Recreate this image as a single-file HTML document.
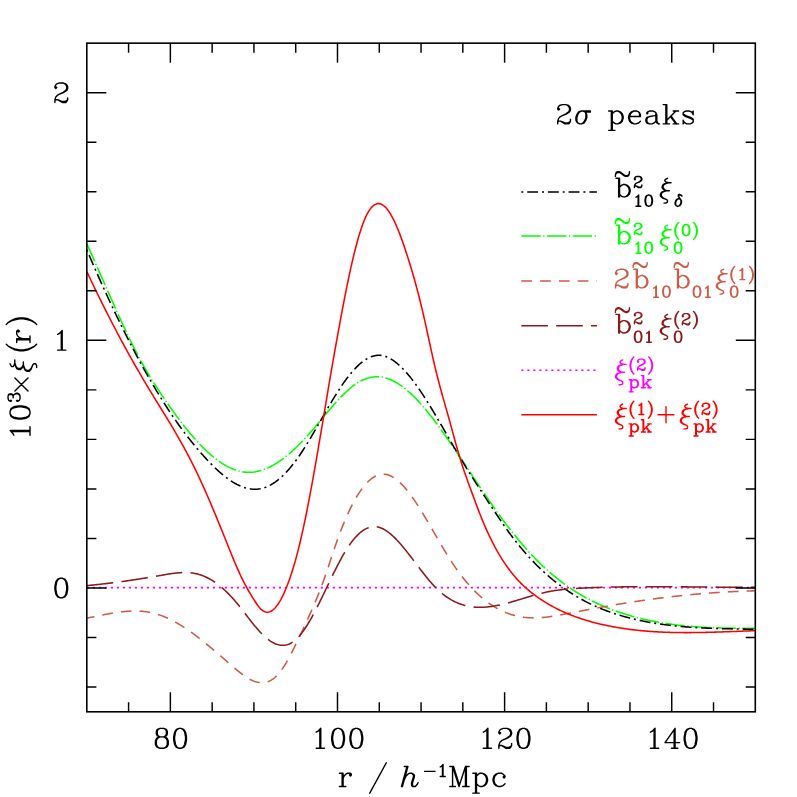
<!DOCTYPE html>
<html><head><meta charset="utf-8"><title>plot</title>
<style>html,body{margin:0;padding:0;background:#fff;font-family:"Liberation Sans",sans-serif}svg{display:block}</style>
</head><body><svg width="797" height="797" viewBox="0 0 797 797">
<rect width="797" height="797" fill="#fff"/>
<clipPath id="c"><rect x="86.80" y="43.15" width="668.50" height="668.65"/></clipPath>
<g clip-path="url(#c)"><path d="M86.80 243.78L87.80 245.98L88.80 248.18L89.80 250.40L90.80 252.62L91.80 254.85L92.80 257.08L93.80 259.33L94.80 261.58L95.80 263.83L96.80 266.09L97.80 268.36L98.80 270.62L99.80 272.89L100.80 275.16L101.80 277.44L102.80 279.71L103.80 281.99L104.80 284.26L105.80 286.54L106.80 288.81L107.80 291.08L108.80 293.35L109.80 295.61L110.80 297.87L111.80 300.13L112.80 302.38L113.80 304.62L114.80 306.86L115.80 309.09L116.80 311.32L117.80 313.53L118.80 315.74L119.80 317.94L120.80 320.12L121.80 322.30L122.80 324.46L123.80 326.61L124.80 328.75L125.80 330.88L126.80 332.99L127.80 335.09L128.80 337.17L129.80 339.24L130.80 341.29L131.80 343.32L132.80 345.34L133.80 347.34L134.80 349.32L135.80 351.28L136.80 353.21L137.80 355.13L138.80 357.03L139.80 358.90L140.80 360.76L141.80 362.59L142.80 364.39L143.80 366.17L144.80 367.93L145.80 369.67L146.80 371.39L147.80 373.08L148.80 374.76L149.80 376.42L150.80 378.05L151.80 379.68L152.80 381.28L153.80 382.87L154.80 384.44L155.80 386.00L156.80 387.55L157.80 389.08L158.80 390.60L159.80 392.11L160.80 393.61L161.80 395.10L162.80 396.58L163.80 398.05L164.80 399.52L165.80 400.97L166.80 402.42L167.80 403.86L168.80 405.29L169.80 406.71L170.80 408.13L171.80 409.53L172.80 410.93L173.80 412.31L174.80 413.69L175.80 415.06L176.80 416.41L177.80 417.76L178.80 419.09L179.80 420.42L180.80 421.73L181.80 423.03L182.80 424.32L183.80 425.60L184.80 426.86L185.80 428.12L186.80 429.36L187.80 430.59L188.80 431.80L189.80 433.00L190.80 434.19L191.80 435.37L192.80 436.53L193.80 437.68L194.80 438.81L195.80 439.93L196.80 441.03L197.80 442.12L198.80 443.19L199.80 444.25L200.80 445.29L201.80 446.32L202.80 447.33L203.80 448.32L204.80 449.30L205.80 450.26L206.80 451.20L207.80 452.13L208.80 453.04L209.80 453.93L210.80 454.80L211.80 455.65L212.80 456.49L213.80 457.30L214.80 458.10L215.80 458.88L216.80 459.64L217.80 460.38L218.80 461.10L219.80 461.80L220.80 462.48L221.80 463.14L222.80 463.78L223.80 464.40L224.80 464.99L225.80 465.57L226.80 466.12L227.80 466.65L228.80 467.16L229.80 467.65L230.80 468.11L231.80 468.55L232.80 468.97L233.80 469.37L234.80 469.74L235.80 470.09L236.80 470.41L237.80 470.71L238.80 470.99L239.80 471.24L240.80 471.46L241.80 471.66L242.80 471.84L243.80 471.99L244.80 472.11L245.80 472.21L246.80 472.28L247.80 472.33L248.80 472.35L249.80 472.34L250.80 472.31L251.80 472.25L252.80 472.16L253.80 472.05L254.80 471.91L255.80 471.75L256.80 471.57L257.80 471.35L258.80 471.12L259.80 470.86L260.80 470.58L261.80 470.27L262.80 469.94L263.80 469.59L264.80 469.21L265.80 468.82L266.80 468.40L267.80 467.95L268.80 467.49L269.80 467.01L270.80 466.50L271.80 465.97L272.80 465.43L273.80 464.86L274.80 464.27L275.80 463.66L276.80 463.04L277.80 462.39L278.80 461.72L279.80 461.04L280.80 460.34L281.80 459.62L282.80 458.88L283.80 458.12L284.80 457.35L285.80 456.55L286.80 455.74L287.80 454.92L288.80 454.08L289.80 453.22L290.80 452.35L291.80 451.46L292.80 450.55L293.80 449.63L294.80 448.69L295.80 447.75L296.80 446.78L297.80 445.80L298.80 444.81L299.80 443.80L300.80 442.79L301.80 441.75L302.80 440.71L303.80 439.65L304.80 438.58L305.80 437.50L306.80 436.40L307.80 435.30L308.80 434.18L309.80 433.05L310.80 431.92L311.80 430.77L312.80 429.61L313.80 428.44L314.80 427.27L315.80 426.09L316.80 424.90L317.80 423.72L318.80 422.52L319.80 421.33L320.80 420.13L321.80 418.93L322.80 417.73L323.80 416.53L324.80 415.33L325.80 414.14L326.80 412.95L327.80 411.76L328.80 410.58L329.80 409.41L330.80 408.24L331.80 407.08L332.80 405.93L333.80 404.79L334.80 403.66L335.80 402.55L336.80 401.44L337.80 400.35L338.80 399.27L339.80 398.21L340.80 397.17L341.80 396.14L342.80 395.13L343.80 394.14L344.80 393.17L345.80 392.22L346.80 391.29L347.80 390.38L348.80 389.50L349.80 388.64L350.80 387.81L351.80 387.00L352.80 386.22L353.80 385.47L354.80 384.75L355.80 384.06L356.80 383.39L357.80 382.76L358.80 382.16L359.80 381.59L360.80 381.05L361.80 380.54L362.80 380.07L363.80 379.62L364.80 379.21L365.80 378.83L366.80 378.48L367.80 378.16L368.80 377.87L369.80 377.62L370.80 377.39L371.80 377.21L372.80 377.05L373.80 376.92L374.80 376.83L375.80 376.77L376.80 376.75L377.80 376.76L378.80 376.80L379.80 376.87L380.80 376.98L381.80 377.12L382.80 377.30L383.80 377.50L384.80 377.74L385.80 378.00L386.80 378.30L387.80 378.63L388.80 378.99L389.80 379.38L390.80 379.79L391.80 380.24L392.80 380.71L393.80 381.22L394.80 381.75L395.80 382.30L396.80 382.89L397.80 383.50L398.80 384.13L399.80 384.80L400.80 385.48L401.80 386.19L402.80 386.93L403.80 387.69L404.80 388.48L405.80 389.28L406.80 390.11L407.80 390.97L408.80 391.84L409.80 392.74L410.80 393.66L411.80 394.60L412.80 395.56L413.80 396.54L414.80 397.54L415.80 398.56L416.80 399.60L417.80 400.65L418.80 401.73L419.80 402.82L420.80 403.93L421.80 405.06L422.80 406.21L423.80 407.37L424.80 408.54L425.80 409.74L426.80 410.94L427.80 412.17L428.80 413.40L429.80 414.66L430.80 415.92L431.80 417.20L432.80 418.49L433.80 419.79L434.80 421.11L435.80 422.43L436.80 423.77L437.80 425.12L438.80 426.48L439.80 427.85L440.80 429.23L441.80 430.62L442.80 432.02L443.80 433.42L444.80 434.84L445.80 436.26L446.80 437.69L447.80 439.13L448.80 440.57L449.80 442.02L450.80 443.47L451.80 444.93L452.80 446.40L453.80 447.87L454.80 449.35L455.80 450.83L456.80 452.31L457.80 453.80L458.80 455.29L459.80 456.78L460.80 458.28L461.80 459.78L462.80 461.28L463.80 462.79L464.80 464.29L465.80 465.80L466.80 467.31L467.80 468.82L468.80 470.32L469.80 471.83L470.80 473.34L471.80 474.85L472.80 476.36L473.80 477.87L474.80 479.37L475.80 480.88L476.80 482.38L477.80 483.88L478.80 485.38L479.80 486.88L480.80 488.37L481.80 489.86L482.80 491.34L483.80 492.82L484.80 494.30L485.80 495.77L486.80 497.24L487.80 498.71L488.80 500.16L489.80 501.62L490.80 503.06L491.80 504.50L492.80 505.94L493.80 507.36L494.80 508.78L495.80 510.19L496.80 511.60L497.80 513.00L498.80 514.38L499.80 515.76L500.80 517.13L501.80 518.50L502.80 519.85L503.80 521.19L504.80 522.53L505.80 523.85L506.80 525.17L507.80 526.48L508.80 527.77L509.80 529.06L510.80 530.34L511.80 531.61L512.80 532.87L513.80 534.12L514.80 535.36L515.80 536.59L516.80 537.81L517.80 539.02L518.80 540.22L519.80 541.41L520.80 542.59L521.80 543.77L522.80 544.93L523.80 546.08L524.80 547.22L525.80 548.35L526.80 549.47L527.80 550.58L528.80 551.68L529.80 552.77L530.80 553.85L531.80 554.92L532.80 555.98L533.80 557.02L534.80 558.06L535.80 559.09L536.80 560.10L537.80 561.11L538.80 562.10L539.80 563.09L540.80 564.06L541.80 565.02L542.80 565.97L543.80 566.91L544.80 567.84L545.80 568.76L546.80 569.66L547.80 570.56L548.80 571.45L549.80 572.32L550.80 573.19L551.80 574.05L552.80 574.89L553.80 575.73L554.80 576.56L555.80 577.37L556.80 578.18L557.80 578.97L558.80 579.76L559.80 580.54L560.80 581.31L561.80 582.06L562.80 582.81L563.80 583.55L564.80 584.28L565.80 585.01L566.80 585.72L567.80 586.42L568.80 587.12L569.80 587.80L570.80 588.48L571.80 589.15L572.80 589.81L573.80 590.46L574.80 591.10L575.80 591.73L576.80 592.36L577.80 592.98L578.80 593.59L579.80 594.19L580.80 594.78L581.80 595.37L582.80 595.94L583.80 596.51L584.80 597.08L585.80 597.63L586.80 598.18L587.80 598.72L588.80 599.25L589.80 599.77L590.80 600.29L591.80 600.80L592.80 601.30L593.80 601.80L594.80 602.29L595.80 602.77L596.80 603.24L597.80 603.71L598.80 604.17L599.80 604.63L600.80 605.08L601.80 605.52L602.80 605.95L603.80 606.38L604.80 606.81L605.80 607.22L606.80 607.63L607.80 608.04L608.80 608.44L609.80 608.83L610.80 609.22L611.80 609.60L612.80 609.97L613.80 610.34L614.80 610.71L615.80 611.07L616.80 611.42L617.80 611.77L618.80 612.11L619.80 612.45L620.80 612.78L621.80 613.11L622.80 613.44L623.80 613.75L624.80 614.07L625.80 614.38L626.80 614.68L627.80 614.98L628.80 615.28L629.80 615.57L630.80 615.85L631.80 616.14L632.80 616.42L633.80 616.69L634.80 616.96L635.80 617.22L636.80 617.49L637.80 617.74L638.80 618.00L639.80 618.25L640.80 618.49L641.80 618.73L642.80 618.97L643.80 619.20L644.80 619.43L645.80 619.66L646.80 619.88L647.80 620.10L648.80 620.31L649.80 620.52L650.80 620.73L651.80 620.93L652.80 621.13L653.80 621.33L654.80 621.52L655.80 621.71L656.80 621.90L657.80 622.08L658.80 622.26L659.80 622.43L660.80 622.61L661.80 622.77L662.80 622.94L663.80 623.10L664.80 623.26L665.80 623.41L666.80 623.57L667.80 623.72L668.80 623.86L669.80 624.00L670.80 624.14L671.80 624.28L672.80 624.41L673.80 624.55L674.80 624.67L675.80 624.80L676.80 624.92L677.80 625.04L678.80 625.16L679.80 625.27L680.80 625.38L681.80 625.49L682.80 625.59L683.80 625.70L684.80 625.80L685.80 625.89L686.80 625.99L687.80 626.08L688.80 626.17L689.80 626.26L690.80 626.34L691.80 626.43L692.80 626.51L693.80 626.59L694.80 626.66L695.80 626.73L696.80 626.81L697.80 626.87L698.80 626.94L699.80 627.01L700.80 627.07L701.80 627.13L702.80 627.19L703.80 627.24L704.80 627.30L705.80 627.35L706.80 627.40L707.80 627.45L708.80 627.49L709.80 627.54L710.80 627.58L711.80 627.62L712.80 627.66L713.80 627.70L714.80 627.74L715.80 627.77L716.80 627.80L717.80 627.83L718.80 627.86L719.80 627.89L720.80 627.92L721.80 627.94L722.80 627.97L723.80 627.99L724.80 628.01L725.80 628.03L726.80 628.05L727.80 628.06L728.80 628.08L729.80 628.09L730.80 628.11L731.80 628.12L732.80 628.13L733.80 628.14L734.80 628.15L735.80 628.16L736.80 628.16L737.80 628.17L738.80 628.17L739.80 628.18L740.80 628.18L741.80 628.18L742.80 628.18L743.80 628.19L744.80 628.19L745.80 628.18L746.80 628.18L747.80 628.18L748.80 628.18L749.80 628.18L750.80 628.17L751.80 628.17L752.80 628.16L753.80 628.16L755.30 628.15" fill="none" stroke="#00ff00" stroke-width="1.55" stroke-dasharray="19.4 2.5 1.3 2.5" stroke-dashoffset="0.0" stroke-linejoin="round"/><path d="M86.80 249.73L87.80 252.08L88.80 254.42L89.80 256.75L90.80 259.07L91.80 261.39L92.80 263.69L93.80 265.99L94.80 268.28L95.80 270.56L96.80 272.83L97.80 275.09L98.80 277.34L99.80 279.59L100.80 281.82L101.80 284.05L102.80 286.26L103.80 288.47L104.80 290.67L105.80 292.86L106.80 295.04L107.80 297.21L108.80 299.37L109.80 301.52L110.80 303.66L111.80 305.79L112.80 307.92L113.80 310.03L114.80 312.13L115.80 314.23L116.80 316.31L117.80 318.39L118.80 320.45L119.80 322.51L120.80 324.55L121.80 326.59L122.80 328.61L123.80 330.63L124.80 332.63L125.80 334.63L126.80 336.61L127.80 338.59L128.80 340.55L129.80 342.51L130.80 344.45L131.80 346.39L132.80 348.31L133.80 350.22L134.80 352.13L135.80 354.02L136.80 355.90L137.80 357.77L138.80 359.63L139.80 361.48L140.80 363.32L141.80 365.15L142.80 366.97L143.80 368.78L144.80 370.58L145.80 372.36L146.80 374.14L147.80 375.90L148.80 377.65L149.80 379.39L150.80 381.13L151.80 382.85L152.80 384.55L153.80 386.25L154.80 387.94L155.80 389.61L156.80 391.28L157.80 392.93L158.80 394.57L159.80 396.20L160.80 397.82L161.80 399.42L162.80 401.02L163.80 402.60L164.80 404.17L165.80 405.73L166.80 407.28L167.80 408.82L168.80 410.34L169.80 411.85L170.80 413.35L171.80 414.84L172.80 416.32L173.80 417.78L174.80 419.24L175.80 420.68L176.80 422.11L177.80 423.52L178.80 424.93L179.80 426.32L180.80 427.70L181.80 429.07L182.80 430.42L183.80 431.77L184.80 433.10L185.80 434.42L186.80 435.73L187.80 437.03L188.80 438.31L189.80 439.59L190.80 440.85L191.80 442.10L192.80 443.34L193.80 444.56L194.80 445.78L195.80 446.98L196.80 448.17L197.80 449.35L198.80 450.52L199.80 451.68L200.80 452.83L201.80 453.96L202.80 455.08L203.80 456.19L204.80 457.30L205.80 458.38L206.80 459.46L207.80 460.53L208.80 461.58L209.80 462.62L210.80 463.65L211.80 464.66L212.80 465.66L213.80 466.65L214.80 467.62L215.80 468.58L216.80 469.52L217.80 470.44L218.80 471.35L219.80 472.24L220.80 473.11L221.80 473.96L222.80 474.80L223.80 475.62L224.80 476.41L225.80 477.19L226.80 477.95L227.80 478.69L228.80 479.40L229.80 480.10L230.80 480.77L231.80 481.42L232.80 482.05L233.80 482.65L234.80 483.24L235.80 483.79L236.80 484.33L237.80 484.83L238.80 485.32L239.80 485.77L240.80 486.20L241.80 486.61L242.80 486.98L243.80 487.33L244.80 487.65L245.80 487.95L246.80 488.21L247.80 488.45L248.80 488.65L249.80 488.83L250.80 488.97L251.80 489.09L252.80 489.17L253.80 489.22L254.80 489.24L255.80 489.22L256.80 489.17L257.80 489.09L258.80 488.98L259.80 488.83L260.80 488.64L261.80 488.42L262.80 488.17L263.80 487.88L264.80 487.55L265.80 487.19L266.80 486.79L267.80 486.35L268.80 485.88L269.80 485.38L270.80 484.84L271.80 484.26L272.80 483.66L273.80 483.01L274.80 482.34L275.80 481.63L276.80 480.88L277.80 480.10L278.80 479.29L279.80 478.45L280.80 477.58L281.80 476.67L282.80 475.73L283.80 474.76L284.80 473.75L285.80 472.72L286.80 471.65L287.80 470.55L288.80 469.42L289.80 468.26L290.80 467.07L291.80 465.85L292.80 464.60L293.80 463.32L294.80 462.01L295.80 460.67L296.80 459.30L297.80 457.90L298.80 456.48L299.80 455.02L300.80 453.54L301.80 452.04L302.80 450.50L303.80 448.95L304.80 447.38L305.80 445.78L306.80 444.17L307.80 442.54L308.80 440.89L309.80 439.23L310.80 437.55L311.80 435.86L312.80 434.16L313.80 432.45L314.80 430.73L315.80 429.00L316.80 427.27L317.80 425.53L318.80 423.78L319.80 422.04L320.80 420.29L321.80 418.54L322.80 416.80L323.80 415.06L324.80 413.32L325.80 411.58L326.80 409.85L327.80 408.13L328.80 406.42L329.80 404.72L330.80 403.03L331.80 401.35L332.80 399.69L333.80 398.04L334.80 396.41L335.80 394.80L336.80 393.20L337.80 391.63L338.80 390.07L339.80 388.54L340.80 387.04L341.80 385.55L342.80 384.10L343.80 382.67L344.80 381.27L345.80 379.89L346.80 378.55L347.80 377.23L348.80 375.95L349.80 374.69L350.80 373.47L351.80 372.28L352.80 371.12L353.80 370.00L354.80 368.91L355.80 367.86L356.80 366.84L357.80 365.87L358.80 364.93L359.80 364.02L360.80 363.16L361.80 362.34L362.80 361.56L363.80 360.82L364.80 360.13L365.80 359.47L366.80 358.86L367.80 358.30L368.80 357.78L369.80 357.31L370.80 356.88L371.80 356.51L372.80 356.18L373.80 355.90L374.80 355.67L375.80 355.49L376.80 355.37L377.80 355.29L378.80 355.27L379.80 355.31L380.80 355.39L381.80 355.53L382.80 355.72L383.80 355.96L384.80 356.24L385.80 356.58L386.80 356.96L387.80 357.39L388.80 357.86L389.80 358.38L390.80 358.94L391.80 359.54L392.80 360.18L393.80 360.87L394.80 361.59L395.80 362.35L396.80 363.15L397.80 363.99L398.80 364.86L399.80 365.77L400.80 366.71L401.80 367.69L402.80 368.69L403.80 369.74L404.80 370.81L405.80 371.91L406.80 373.04L407.80 374.20L408.80 375.39L409.80 376.61L410.80 377.86L411.80 379.13L412.80 380.43L413.80 381.75L414.80 383.10L415.80 384.47L416.80 385.86L417.80 387.27L418.80 388.71L419.80 390.17L420.80 391.64L421.80 393.14L422.80 394.65L423.80 396.19L424.80 397.74L425.80 399.30L426.80 400.88L427.80 402.48L428.80 404.09L429.80 405.71L430.80 407.35L431.80 408.99L432.80 410.65L433.80 412.32L434.80 414.00L435.80 415.69L436.80 417.38L437.80 419.09L438.80 420.80L439.80 422.51L440.80 424.24L441.80 425.96L442.80 427.69L443.80 429.43L444.80 431.16L445.80 432.90L446.80 434.64L447.80 436.38L448.80 438.12L449.80 439.86L450.80 441.59L451.80 443.33L452.80 445.06L453.80 446.78L454.80 448.50L455.80 450.22L456.80 451.93L457.80 453.63L458.80 455.33L459.80 457.01L460.80 458.69L461.80 460.36L462.80 462.02L463.80 463.67L464.80 465.31L465.80 466.94L466.80 468.56L467.80 470.17L468.80 471.78L469.80 473.38L470.80 474.97L471.80 476.55L472.80 478.13L473.80 479.70L474.80 481.26L475.80 482.82L476.80 484.38L477.80 485.92L478.80 487.47L479.80 489.01L480.80 490.54L481.80 492.07L482.80 493.60L483.80 495.13L484.80 496.65L485.80 498.17L486.80 499.68L487.80 501.20L488.80 502.71L489.80 504.22L490.80 505.73L491.80 507.24L492.80 508.75L493.80 510.26L494.80 511.77L495.80 513.27L496.80 514.78L497.80 516.28L498.80 517.77L499.80 519.25L500.80 520.73L501.80 522.20L502.80 523.67L503.80 525.12L504.80 526.56L505.80 527.98L506.80 529.40L507.80 530.80L508.80 532.18L509.80 533.55L510.80 534.90L511.80 536.24L512.80 537.56L513.80 538.87L514.80 540.16L515.80 541.44L516.80 542.71L517.80 543.96L518.80 545.20L519.80 546.42L520.80 547.63L521.80 548.82L522.80 550.00L523.80 551.17L524.80 552.32L525.80 553.47L526.80 554.59L527.80 555.71L528.80 556.81L529.80 557.90L530.80 558.98L531.80 560.05L532.80 561.10L533.80 562.14L534.80 563.17L535.80 564.19L536.80 565.19L537.80 566.19L538.80 567.17L539.80 568.14L540.80 569.10L541.80 570.04L542.80 570.98L543.80 571.90L544.80 572.82L545.80 573.72L546.80 574.61L547.80 575.49L548.80 576.36L549.80 577.22L550.80 578.06L551.80 578.90L552.80 579.73L553.80 580.54L554.80 581.35L555.80 582.14L556.80 582.93L557.80 583.70L558.80 584.47L559.80 585.22L560.80 585.97L561.80 586.70L562.80 587.42L563.80 588.14L564.80 588.85L565.80 589.54L566.80 590.23L567.80 590.91L568.80 591.57L569.80 592.23L570.80 592.88L571.80 593.52L572.80 594.16L573.80 594.78L574.80 595.39L575.80 596.00L576.80 596.60L577.80 597.18L578.80 597.76L579.80 598.34L580.80 598.90L581.80 599.45L582.80 600.00L583.80 600.54L584.80 601.07L585.80 601.59L586.80 602.11L587.80 602.62L588.80 603.12L589.80 603.61L590.80 604.09L591.80 604.57L592.80 605.04L593.80 605.51L594.80 605.96L595.80 606.41L596.80 606.85L597.80 607.29L598.80 607.72L599.80 608.14L600.80 608.55L601.80 608.96L602.80 609.36L603.80 609.76L604.80 610.15L605.80 610.53L606.80 610.91L607.80 611.28L608.80 611.64L609.80 612.00L610.80 612.35L611.80 612.70L612.80 613.04L613.80 613.38L614.80 613.71L615.80 614.03L616.80 614.35L617.80 614.67L618.80 614.97L619.80 615.28L620.80 615.58L621.80 615.87L622.80 616.16L623.80 616.45L624.80 616.73L625.80 617.00L626.80 617.27L627.80 617.54L628.80 617.80L629.80 618.06L630.80 618.31L631.80 618.56L632.80 618.80L633.80 619.05L634.80 619.28L635.80 619.52L636.80 619.74L637.80 619.97L638.80 620.19L639.80 620.41L640.80 620.62L641.80 620.83L642.80 621.04L643.80 621.24L644.80 621.44L645.80 621.63L646.80 621.82L647.80 622.01L648.80 622.20L649.80 622.38L650.80 622.55L651.80 622.73L652.80 622.90L653.80 623.06L654.80 623.23L655.80 623.39L656.80 623.55L657.80 623.70L658.80 623.85L659.80 624.00L660.80 624.14L661.80 624.28L662.80 624.42L663.80 624.56L664.80 624.69L665.80 624.82L666.80 624.95L667.80 625.07L668.80 625.19L669.80 625.31L670.80 625.43L671.80 625.54L672.80 625.65L673.80 625.76L674.80 625.87L675.80 625.97L676.80 626.07L677.80 626.17L678.80 626.26L679.80 626.36L680.80 626.45L681.80 626.54L682.80 626.62L683.80 626.71L684.80 626.79L685.80 626.87L686.80 626.95L687.80 627.02L688.80 627.10L689.80 627.17L690.80 627.24L691.80 627.30L692.80 627.37L693.80 627.43L694.80 627.50L695.80 627.56L696.80 627.62L697.80 627.67L698.80 627.73L699.80 627.78L700.80 627.83L701.80 627.88L702.80 627.93L703.80 627.98L704.80 628.03L705.80 628.07L706.80 628.12L707.80 628.16L708.80 628.20L709.80 628.24L710.80 628.28L711.80 628.31L712.80 628.35L713.80 628.39L714.80 628.42L715.80 628.45L716.80 628.48L717.80 628.51L718.80 628.54L719.80 628.57L720.80 628.60L721.80 628.63L722.80 628.66L723.80 628.68L724.80 628.71L725.80 628.73L726.80 628.76L727.80 628.78L728.80 628.80L729.80 628.83L730.80 628.85L731.80 628.87L732.80 628.89L733.80 628.91L734.80 628.93L735.80 628.95L736.80 628.97L737.80 628.99L738.80 629.01L739.80 629.03L740.80 629.05L741.80 629.07L742.80 629.09L743.80 629.11L744.80 629.13L745.80 629.15L746.80 629.17L747.80 629.19L748.80 629.21L749.80 629.23L750.80 629.25L751.80 629.27L752.80 629.29L753.80 629.32L755.30 629.35" fill="none" stroke="#000000" stroke-width="1.55" stroke-dasharray="10.9 3.9 2 3.9" stroke-dashoffset="14.8" stroke-linejoin="round"/><path d="M86.80 618.11L87.80 617.92L88.80 617.73L89.80 617.54L90.80 617.34L91.80 617.15L92.80 616.95L93.80 616.75L94.80 616.55L95.80 616.35L96.80 616.14L97.80 615.94L98.80 615.74L99.80 615.54L100.80 615.34L101.80 615.14L102.80 614.94L103.80 614.75L104.80 614.55L105.80 614.36L106.80 614.17L107.80 613.99L108.80 613.80L109.80 613.62L110.80 613.45L111.80 613.27L112.80 613.11L113.80 612.94L114.80 612.78L115.80 612.63L116.80 612.48L117.80 612.33L118.80 612.20L119.80 612.07L120.80 611.94L121.80 611.82L122.80 611.71L123.80 611.61L124.80 611.51L125.80 611.42L126.80 611.34L127.80 611.27L128.80 611.20L129.80 611.15L130.80 611.10L131.80 611.06L132.80 611.04L133.80 611.02L134.80 611.01L135.80 611.02L136.80 611.03L137.80 611.06L138.80 611.10L139.80 611.15L140.80 611.21L141.80 611.28L142.80 611.37L143.80 611.47L144.80 611.58L145.80 611.70L146.80 611.84L147.80 612.00L148.80 612.16L149.80 612.34L150.80 612.54L151.80 612.75L152.80 612.98L153.80 613.22L154.80 613.48L155.80 613.75L156.80 614.05L157.80 614.35L158.80 614.67L159.80 615.01L160.80 615.37L161.80 615.73L162.80 616.12L163.80 616.52L164.80 616.93L165.80 617.35L166.80 617.79L167.80 618.25L168.80 618.72L169.80 619.20L170.80 619.69L171.80 620.20L172.80 620.72L173.80 621.25L174.80 621.79L175.80 622.35L176.80 622.92L177.80 623.50L178.80 624.09L179.80 624.69L180.80 625.30L181.80 625.93L182.80 626.56L183.80 627.20L184.80 627.86L185.80 628.52L186.80 629.19L187.80 629.88L188.80 630.57L189.80 631.27L190.80 631.98L191.80 632.69L192.80 633.42L193.80 634.15L194.80 634.89L195.80 635.64L196.80 636.40L197.80 637.16L198.80 637.93L199.80 638.71L200.80 639.49L201.80 640.28L202.80 641.07L203.80 641.87L204.80 642.68L205.80 643.49L206.80 644.31L207.80 645.13L208.80 645.95L209.80 646.79L210.80 647.62L211.80 648.46L212.80 649.30L213.80 650.15L214.80 650.99L215.80 651.85L216.80 652.70L217.80 653.56L218.80 654.42L219.80 655.28L220.80 656.14L221.80 657.01L222.80 657.88L223.80 658.74L224.80 659.61L225.80 660.48L226.80 661.35L227.80 662.23L228.80 663.10L229.80 663.97L230.80 664.84L231.80 665.71L232.80 666.58L233.80 667.44L234.80 668.30L235.80 669.15L236.80 669.99L237.80 670.81L238.80 671.63L239.80 672.43L240.80 673.21L241.80 673.98L242.80 674.72L243.80 675.45L244.80 676.15L245.80 676.82L246.80 677.47L247.80 678.09L248.80 678.67L249.80 679.23L250.80 679.75L251.80 680.24L252.80 680.68L253.80 681.09L254.80 681.46L255.80 681.79L256.80 682.07L257.80 682.30L258.80 682.48L259.80 682.62L260.80 682.70L261.80 682.73L262.80 682.71L263.80 682.63L264.80 682.49L265.80 682.29L266.80 682.03L267.80 681.70L268.80 681.31L269.80 680.85L270.80 680.32L271.80 679.72L272.80 679.05L273.80 678.31L274.80 677.49L275.80 676.60L276.80 675.63L277.80 674.58L278.80 673.46L279.80 672.26L280.80 670.97L281.80 669.61L282.80 668.17L283.80 666.64L284.80 665.05L285.80 663.40L286.80 661.68L287.80 659.91L288.80 658.09L289.80 656.23L290.80 654.32L291.80 652.38L292.80 650.41L293.80 648.42L294.80 646.41L295.80 644.38L296.80 642.34L297.80 640.29L298.80 638.22L299.80 636.14L300.80 634.04L301.80 631.93L302.80 629.80L303.80 627.65L304.80 625.49L305.80 623.31L306.80 621.11L307.80 618.89L308.80 616.66L309.80 614.41L310.80 612.14L311.80 609.86L312.80 607.57L313.80 605.26L314.80 602.94L315.80 600.61L316.80 598.24L317.80 595.84L318.80 593.38L319.80 590.86L320.80 588.27L321.80 585.60L322.80 582.86L323.80 580.05L324.80 577.17L325.80 574.25L326.80 571.29L327.80 568.31L328.80 565.29L329.80 562.27L330.80 559.25L331.80 556.23L332.80 553.23L333.80 550.25L334.80 547.31L335.80 544.41L336.80 541.57L337.80 538.78L338.80 536.04L339.80 533.36L340.80 530.74L341.80 528.17L342.80 525.66L343.80 523.21L344.80 520.81L345.80 518.47L346.80 516.19L347.80 513.97L348.80 511.80L349.80 509.69L350.80 507.64L351.80 505.65L352.80 503.71L353.80 501.84L354.80 500.03L355.80 498.27L356.80 496.57L357.80 494.94L358.80 493.36L359.80 491.85L360.80 490.39L361.80 489.00L362.80 487.66L363.80 486.39L364.80 485.18L365.80 484.03L366.80 482.95L367.80 481.92L368.80 480.96L369.80 480.06L370.80 479.23L371.80 478.45L372.80 477.74L373.80 477.10L374.80 476.51L375.80 476.00L376.80 475.54L377.80 475.15L378.80 474.83L379.80 474.57L380.80 474.38L381.80 474.25L382.80 474.18L383.80 474.19L384.80 474.26L385.80 474.39L386.80 474.59L387.80 474.85L388.80 475.17L389.80 475.56L390.80 476.00L391.80 476.50L392.80 477.06L393.80 477.67L394.80 478.33L395.80 479.05L396.80 479.82L397.80 480.64L398.80 481.50L399.80 482.42L400.80 483.38L401.80 484.38L402.80 485.43L403.80 486.52L404.80 487.65L405.80 488.82L406.80 490.03L407.80 491.27L408.80 492.55L409.80 493.86L410.80 495.21L411.80 496.58L412.80 497.99L413.80 499.43L414.80 500.89L415.80 502.38L416.80 503.90L417.80 505.43L418.80 506.99L419.80 508.58L420.80 510.18L421.80 511.80L422.80 513.43L423.80 515.08L424.80 516.75L425.80 518.43L426.80 520.12L427.80 521.82L428.80 523.53L429.80 525.24L430.80 526.97L431.80 528.70L432.80 530.43L433.80 532.16L434.80 533.89L435.80 535.63L436.80 537.36L437.80 539.09L438.80 540.81L439.80 542.53L440.80 544.24L441.80 545.94L442.80 547.63L443.80 549.31L444.80 550.98L445.80 552.63L446.80 554.27L447.80 555.89L448.80 557.49L449.80 559.08L450.80 560.64L451.80 562.18L452.80 563.70L453.80 565.19L454.80 566.66L455.80 568.10L456.80 569.52L457.80 570.92L458.80 572.29L459.80 573.64L460.80 574.97L461.80 576.27L462.80 577.55L463.80 578.80L464.80 580.04L465.80 581.25L466.80 582.43L467.80 583.60L468.80 584.74L469.80 585.86L470.80 586.96L471.80 588.04L472.80 589.09L473.80 590.12L474.80 591.14L475.80 592.13L476.80 593.10L477.80 594.04L478.80 594.97L479.80 595.88L480.80 596.76L481.80 597.63L482.80 598.47L483.80 599.30L484.80 600.10L485.80 600.89L486.80 601.65L487.80 602.40L488.80 603.12L489.80 603.83L490.80 604.51L491.80 605.18L492.80 605.83L493.80 606.46L494.80 607.07L495.80 607.66L496.80 608.24L497.80 608.79L498.80 609.33L499.80 609.85L500.80 610.35L501.80 610.83L502.80 611.30L503.80 611.75L504.80 612.18L505.80 612.60L506.80 612.99L507.80 613.37L508.80 613.74L509.80 614.09L510.80 614.42L511.80 614.73L512.80 615.03L513.80 615.31L514.80 615.58L515.80 615.83L516.80 616.06L517.80 616.28L518.80 616.49L519.80 616.67L520.80 616.85L521.80 617.01L522.80 617.15L523.80 617.28L524.80 617.40L525.80 617.50L526.80 617.59L527.80 617.66L528.80 617.73L529.80 617.78L530.80 617.82L531.80 617.84L532.80 617.86L533.80 617.86L534.80 617.86L535.80 617.84L536.80 617.81L537.80 617.78L538.80 617.73L539.80 617.67L540.80 617.61L541.80 617.53L542.80 617.45L543.80 617.36L544.80 617.26L545.80 617.16L546.80 617.04L547.80 616.92L548.80 616.79L549.80 616.66L550.80 616.52L551.80 616.38L552.80 616.23L553.80 616.07L554.80 615.91L555.80 615.75L556.80 615.58L557.80 615.40L558.80 615.23L559.80 615.05L560.80 614.87L561.80 614.68L562.80 614.49L563.80 614.30L564.80 614.11L565.80 613.92L566.80 613.73L567.80 613.53L568.80 613.34L569.80 613.14L570.80 612.95L571.80 612.75L572.80 612.56L573.80 612.36L574.80 612.17L575.80 611.97L576.80 611.78L577.80 611.59L578.80 611.39L579.80 611.20L580.80 611.01L581.80 610.82L582.80 610.63L583.80 610.44L584.80 610.25L585.80 610.06L586.80 609.87L587.80 609.68L588.80 609.49L589.80 609.31L590.80 609.12L591.80 608.93L592.80 608.75L593.80 608.56L594.80 608.38L595.80 608.19L596.80 608.01L597.80 607.83L598.80 607.65L599.80 607.46L600.80 607.28L601.80 607.10L602.80 606.92L603.80 606.75L604.80 606.57L605.80 606.39L606.80 606.21L607.80 606.04L608.80 605.86L609.80 605.69L610.80 605.52L611.80 605.34L612.80 605.17L613.80 605.00L614.80 604.83L615.80 604.66L616.80 604.49L617.80 604.33L618.80 604.16L619.80 604.00L620.80 603.83L621.80 603.67L622.80 603.50L623.80 603.34L624.80 603.18L625.80 603.02L626.80 602.86L627.80 602.70L628.80 602.55L629.80 602.39L630.80 602.23L631.80 602.08L632.80 601.93L633.80 601.77L634.80 601.62L635.80 601.47L636.80 601.32L637.80 601.17L638.80 601.02L639.80 600.88L640.80 600.73L641.80 600.59L642.80 600.44L643.80 600.30L644.80 600.16L645.80 600.01L646.80 599.87L647.80 599.73L648.80 599.60L649.80 599.46L650.80 599.32L651.80 599.19L652.80 599.05L653.80 598.92L654.80 598.79L655.80 598.65L656.80 598.52L657.80 598.39L658.80 598.26L659.80 598.14L660.80 598.01L661.80 597.88L662.80 597.76L663.80 597.64L664.80 597.51L665.80 597.39L666.80 597.27L667.80 597.15L668.80 597.03L669.80 596.91L670.80 596.80L671.80 596.68L672.80 596.57L673.80 596.45L674.80 596.34L675.80 596.23L676.80 596.12L677.80 596.01L678.80 595.90L679.80 595.79L680.80 595.68L681.80 595.58L682.80 595.47L683.80 595.37L684.80 595.27L685.80 595.17L686.80 595.07L687.80 594.97L688.80 594.87L689.80 594.77L690.80 594.68L691.80 594.58L692.80 594.49L693.80 594.39L694.80 594.30L695.80 594.21L696.80 594.12L697.80 594.03L698.80 593.94L699.80 593.86L700.80 593.77L701.80 593.69L702.80 593.60L703.80 593.52L704.80 593.44L705.80 593.36L706.80 593.28L707.80 593.20L708.80 593.13L709.80 593.05L710.80 592.98L711.80 592.90L712.80 592.83L713.80 592.76L714.80 592.69L715.80 592.62L716.80 592.55L717.80 592.48L718.80 592.42L719.80 592.35L720.80 592.29L721.80 592.23L722.80 592.17L723.80 592.11L724.80 592.05L725.80 591.99L726.80 591.93L727.80 591.88L728.80 591.82L729.80 591.77L730.80 591.72L731.80 591.66L732.80 591.61L733.80 591.57L734.80 591.52L735.80 591.47L736.80 591.43L737.80 591.38L738.80 591.34L739.80 591.30L740.80 591.26L741.80 591.22L742.80 591.18L743.80 591.14L744.80 591.10L745.80 591.07L746.80 591.03L747.80 591.00L748.80 590.97L749.80 590.94L750.80 590.91L751.80 590.88L752.80 590.86L753.80 590.83L755.30 590.79" fill="none" stroke="#cd5b45" stroke-width="1.55" stroke-dasharray="10.7 8.1" stroke-dashoffset="3.0" stroke-linejoin="round"/><path d="M86.80 587.60H755.30" fill="none" stroke="#ff00ff" stroke-width="1.55" stroke-dasharray="2.2 3.8" stroke-dashoffset="0.0" stroke-linejoin="round"/><path d="M86.80 585.63L87.80 585.53L88.80 585.44L89.80 585.34L90.80 585.24L91.80 585.14L92.80 585.04L93.80 584.94L94.80 584.83L95.80 584.73L96.80 584.62L97.80 584.51L98.80 584.41L99.80 584.30L100.80 584.18L101.80 584.07L102.80 583.96L103.80 583.84L104.80 583.73L105.80 583.61L106.80 583.49L107.80 583.37L108.80 583.25L109.80 583.12L110.80 583.00L111.80 582.88L112.80 582.75L113.80 582.62L114.80 582.49L115.80 582.36L116.80 582.23L117.80 582.10L118.80 581.97L119.80 581.83L120.80 581.70L121.80 581.56L122.80 581.43L123.80 581.29L124.80 581.15L125.80 581.01L126.80 580.86L127.80 580.72L128.80 580.58L129.80 580.43L130.80 580.28L131.80 580.14L132.80 579.99L133.80 579.84L134.80 579.69L135.80 579.54L136.80 579.38L137.80 579.23L138.80 579.07L139.80 578.92L140.80 578.76L141.80 578.60L142.80 578.44L143.80 578.28L144.80 578.12L145.80 577.96L146.80 577.80L147.80 577.63L148.80 577.47L149.80 577.30L150.80 577.14L151.80 576.97L152.80 576.80L153.80 576.63L154.80 576.46L155.80 576.29L156.80 576.11L157.80 575.94L158.80 575.76L159.80 575.59L160.80 575.41L161.80 575.24L162.80 575.06L163.80 574.88L164.80 574.71L165.80 574.53L166.80 574.36L167.80 574.20L168.80 574.03L169.80 573.88L170.80 573.72L171.80 573.58L172.80 573.44L173.80 573.31L174.80 573.18L175.80 573.07L176.80 572.96L177.80 572.87L178.80 572.78L179.80 572.71L180.80 572.65L181.80 572.60L182.80 572.56L183.80 572.54L184.80 572.54L185.80 572.54L186.80 572.57L187.80 572.61L188.80 572.67L189.80 572.75L190.80 572.84L191.80 572.96L192.80 573.10L193.80 573.25L194.80 573.43L195.80 573.63L196.80 573.85L197.80 574.10L198.80 574.37L199.80 574.67L200.80 574.99L201.80 575.33L202.80 575.71L203.80 576.10L204.80 576.53L205.80 576.98L206.80 577.45L207.80 577.95L208.80 578.48L209.80 579.03L210.80 579.60L211.80 580.20L212.80 580.83L213.80 581.48L214.80 582.15L215.80 582.85L216.80 583.58L217.80 584.33L218.80 585.10L219.80 585.90L220.80 586.72L221.80 587.57L222.80 588.44L223.80 589.33L224.80 590.25L225.80 591.19L226.80 592.15L227.80 593.14L228.80 594.16L229.80 595.19L230.80 596.25L231.80 597.33L232.80 598.44L233.80 599.57L234.80 600.72L235.80 601.89L236.80 603.09L237.80 604.31L238.80 605.54L239.80 606.79L240.80 608.06L241.80 609.33L242.80 610.62L243.80 611.91L244.80 613.21L245.80 614.50L246.80 615.80L247.80 617.10L248.80 618.39L249.80 619.68L250.80 620.95L251.80 622.22L252.80 623.47L253.80 624.71L254.80 625.93L255.80 627.12L256.80 628.30L257.80 629.45L258.80 630.58L259.80 631.68L260.80 632.74L261.80 633.78L262.80 634.77L263.80 635.73L264.80 636.66L265.80 637.54L266.80 638.38L267.80 639.18L268.80 639.94L269.80 640.65L270.80 641.32L271.80 641.94L272.80 642.51L273.80 643.03L274.80 643.51L275.80 643.93L276.80 644.30L277.80 644.61L278.80 644.87L279.80 645.08L280.80 645.22L281.80 645.31L282.80 645.34L283.80 645.30L284.80 645.21L285.80 645.05L286.80 644.82L287.80 644.53L288.80 644.17L289.80 643.74L290.80 643.24L291.80 642.68L292.80 642.04L293.80 641.32L294.80 640.53L295.80 639.67L296.80 638.73L297.80 637.72L298.80 636.64L299.80 635.49L300.80 634.27L301.80 633.00L302.80 631.66L303.80 630.26L304.80 628.81L305.80 627.30L306.80 625.75L307.80 624.14L308.80 622.49L309.80 620.79L310.80 619.05L311.80 617.27L312.80 615.45L313.80 613.60L314.80 611.71L315.80 609.80L316.80 607.85L317.80 605.88L318.80 603.89L319.80 601.87L320.80 599.84L321.80 597.79L322.80 595.73L323.80 593.65L324.80 591.57L325.80 589.49L326.80 587.40L327.80 585.31L328.80 583.22L329.80 581.14L330.80 579.06L331.80 577.00L332.80 574.95L333.80 572.91L334.80 570.90L335.80 568.90L336.80 566.92L337.80 564.98L338.80 563.06L339.80 561.17L340.80 559.31L341.80 557.49L342.80 555.71L343.80 553.97L344.80 552.28L345.80 550.63L346.80 549.03L347.80 547.48L348.80 545.98L349.80 544.54L350.80 543.14L351.80 541.80L352.80 540.52L353.80 539.28L354.80 538.10L355.80 536.98L356.80 535.91L357.80 534.89L358.80 533.93L359.80 533.03L360.80 532.18L361.80 531.40L362.80 530.67L363.80 530.00L364.80 529.38L365.80 528.83L366.80 528.34L367.80 527.91L368.80 527.53L369.80 527.22L370.80 526.98L371.80 526.79L372.80 526.67L373.80 526.61L374.80 526.61L375.80 526.68L376.80 526.81L377.80 527.00L378.80 527.24L379.80 527.55L380.80 527.91L381.80 528.32L382.80 528.78L383.80 529.30L384.80 529.87L385.80 530.48L386.80 531.14L387.80 531.84L388.80 532.59L389.80 533.37L390.80 534.20L391.80 535.07L392.80 535.97L393.80 536.91L394.80 537.88L395.80 538.89L396.80 539.92L397.00 540.13" fill="none" stroke="#8b1a1a" stroke-width="1.55" stroke-dasharray="26.6 8.3" stroke-dashoffset="0.0" stroke-linejoin="round"/><path d="M397.00 540.13L397.80 540.98L398.80 542.08L399.80 543.19L400.80 544.34L401.80 545.50L402.80 546.69L403.80 547.89L404.80 549.12L405.80 550.36L406.80 551.61L407.80 552.88L408.80 554.16L409.80 555.46L410.80 556.76L411.80 558.07L412.80 559.38L413.80 560.70L414.80 562.02L415.80 563.35L416.80 564.67L417.80 565.99L418.80 567.31L419.80 568.62L420.80 569.93L421.80 571.22L422.80 572.51L423.80 573.79L424.80 575.06L425.80 576.31L426.80 577.54L427.80 578.76L428.80 579.96L429.80 581.14L430.80 582.29L431.80 583.43L432.80 584.53L433.80 585.62L434.80 586.67L435.80 587.69L436.80 588.69L437.80 589.65L438.80 590.58L439.80 591.48L440.80 592.36L441.80 593.20L442.80 594.02L443.80 594.80L444.80 595.56L445.80 596.29L446.80 597.00L447.80 597.67L448.80 598.32L449.80 598.95L450.80 599.55L451.80 600.12L452.80 600.67L453.80 601.19L454.80 601.69L455.80 602.16L456.80 602.61L457.80 603.04L458.80 603.45L459.80 603.83L460.80 604.19L461.80 604.53L462.80 604.84L463.80 605.14L464.80 605.42L465.80 605.67L466.80 605.91L467.80 606.12L468.80 606.32L469.80 606.50L470.80 606.66L471.80 606.80L472.80 606.92L473.80 607.03L474.80 607.12L475.80 607.19L476.80 607.25L477.80 607.29L478.80 607.31L479.80 607.32L480.80 607.32L481.80 607.30L482.80 607.27L483.80 607.22L484.80 607.16L485.80 607.09L486.80 607.00L487.80 606.91L488.80 606.80L489.80 606.68L490.80 606.55L491.80 606.40L492.80 606.25L493.80 606.09L494.80 605.92L495.80 605.74L496.80 605.55L497.80 605.35L498.80 605.14L499.80 604.93L500.80 604.70L501.80 604.47L502.80 604.24L503.80 603.99L504.80 603.74L505.80 603.49L506.80 603.23L507.80 602.96L508.80 602.69L509.80 602.41L510.80 602.13L511.80 601.85L512.80 601.56L513.80 601.27L514.80 600.98L515.80 600.68L516.80 600.38L517.80 600.08L518.80 599.78L519.80 599.48L520.80 599.17L521.80 598.87L522.80 598.56L523.80 598.26L524.80 597.95L525.80 597.65L526.80 597.35L527.80 597.04L528.80 596.74L529.80 596.45L530.80 596.15L531.80 595.86L532.80 595.57L533.80 595.28L534.80 595.00L535.80 594.72L536.80 594.45L537.80 594.18L538.80 593.92L539.80 593.66L540.80 593.41L541.80 593.16L542.80 592.92L543.80 592.69L544.80 592.46L545.80 592.24L546.80 592.03L547.80 591.83L548.80 591.63L549.80 591.44L550.80 591.26L551.80 591.08L552.80 590.92L553.80 590.75L554.80 590.60L555.80 590.45L556.80 590.30L557.80 590.16L558.80 590.03L559.80 589.90L560.80 589.78L561.80 589.66L562.80 589.55L563.80 589.44L564.80 589.34L565.80 589.24L566.80 589.14L567.80 589.05L568.80 588.97L569.80 588.88L570.80 588.80L571.80 588.73L572.80 588.66L573.80 588.59L574.80 588.52L575.80 588.46L576.80 588.40L577.80 588.34L578.80 588.28L579.80 588.23L580.80 588.17L581.80 588.12L582.80 588.07L583.80 588.03L584.80 587.98L585.80 587.93L586.80 587.89L587.80 587.85L588.80 587.80L589.80 587.76L590.80 587.72L591.80 587.68L592.80 587.64L593.80 587.61L594.80 587.57L595.80 587.53L596.80 587.50L597.80 587.46L598.80 587.43L599.80 587.40L600.80 587.37L601.80 587.34L602.80 587.31L603.80 587.28L604.80 587.25L605.80 587.22L606.80 587.20L607.80 587.17L608.80 587.15L609.80 587.12L610.80 587.10L611.80 587.08L612.80 587.05L613.80 587.03L614.80 587.01L615.80 586.99L616.80 586.97L617.80 586.96L618.80 586.94L619.80 586.92L620.80 586.90L621.80 586.89L622.80 586.87L623.80 586.86L624.80 586.85L625.80 586.83L626.80 586.82L627.80 586.81L628.80 586.80L629.80 586.79L630.80 586.78L631.80 586.77L632.80 586.76L633.80 586.75L634.80 586.74L635.80 586.74L636.80 586.73L637.80 586.73L638.80 586.72L639.80 586.71L640.80 586.71L641.80 586.71L642.80 586.70L643.80 586.70L644.80 586.70L645.80 586.69L646.80 586.69L647.80 586.69L648.80 586.69L649.80 586.69L650.80 586.69L651.80 586.69L652.80 586.69L653.80 586.69L654.80 586.69L655.80 586.70L656.80 586.70L657.80 586.70L658.80 586.70L659.80 586.71L660.80 586.71L661.80 586.72L662.80 586.72L663.80 586.72L664.80 586.73L665.80 586.73L666.80 586.74L667.80 586.74L668.80 586.75L669.80 586.76L670.80 586.76L671.80 586.77L672.80 586.78L673.80 586.78L674.80 586.79L675.80 586.80L676.80 586.80L677.80 586.81L678.80 586.82L679.80 586.83L680.80 586.84L681.80 586.84L682.80 586.85L683.80 586.86L684.80 586.87L685.80 586.88L686.80 586.89L687.80 586.90L688.80 586.90L689.80 586.91L690.80 586.92L691.80 586.93L692.80 586.94L693.80 586.95L694.80 586.96L695.80 586.97L696.80 586.98L697.80 586.99L698.80 586.99L699.80 587.00L700.80 587.01L701.80 587.02L702.80 587.03L703.80 587.04L704.80 587.05L705.80 587.06L706.80 587.06L707.80 587.07L708.80 587.08L709.80 587.09L710.80 587.10L711.80 587.11L712.80 587.11L713.80 587.12L714.80 587.13L715.80 587.14L716.80 587.14L717.80 587.15L718.80 587.16L719.80 587.16L720.80 587.17L721.80 587.17L722.80 587.18L723.80 587.19L724.80 587.19L725.80 587.20L726.80 587.20L727.80 587.21L728.80 587.21L729.80 587.21L730.80 587.22L731.80 587.22L732.80 587.22L733.80 587.23L734.80 587.23L735.80 587.23L736.80 587.23L737.80 587.23L738.80 587.23L739.80 587.23L740.80 587.23L741.80 587.23L742.80 587.23L743.80 587.23L744.80 587.23L745.80 587.23L746.80 587.22L747.80 587.22L748.80 587.22L749.80 587.21L750.80 587.21L751.80 587.20L752.80 587.20L753.80 587.19L755.30 587.18" fill="none" stroke="#8b1a1a" stroke-width="1.55" stroke-dasharray="26.6 8.3" stroke-dashoffset="0.0" stroke-linejoin="round"/><path d="M86.80 271.50L87.80 273.63L88.80 275.75L89.80 277.86L90.80 279.97L91.80 282.07L92.80 284.15L93.80 286.23L94.80 288.31L95.80 290.37L96.80 292.43L97.80 294.47L98.80 296.51L99.80 298.55L100.80 300.57L101.80 302.59L102.80 304.59L103.80 306.60L104.80 308.59L105.80 310.57L106.80 312.55L107.80 314.52L108.80 316.48L109.80 318.43L110.80 320.38L111.80 322.32L112.80 324.25L113.80 326.17L114.80 328.08L115.80 329.99L116.80 331.89L117.80 333.78L118.80 335.66L119.80 337.54L120.80 339.41L121.80 341.27L122.80 343.12L123.80 344.97L124.80 346.80L125.80 348.63L126.80 350.46L127.80 352.27L128.80 354.08L129.80 355.88L130.80 357.67L131.80 359.45L132.80 361.23L133.80 363.00L134.80 364.76L135.80 366.52L136.80 368.26L137.80 370.00L138.80 371.73L139.80 373.46L140.80 375.17L141.80 376.88L142.80 378.59L143.80 380.28L144.80 381.97L145.80 383.65L146.80 385.32L147.80 386.99L148.80 388.64L149.80 390.30L150.80 391.94L151.80 393.58L152.80 395.22L153.80 396.85L154.80 398.48L155.80 400.11L156.80 401.73L157.80 403.35L158.80 404.97L159.80 406.60L160.80 408.22L161.80 409.84L162.80 411.47L163.80 413.10L164.80 414.73L165.80 416.36L166.80 418.00L167.80 419.65L168.80 421.30L169.80 422.95L170.80 424.62L171.80 426.29L172.80 427.97L173.80 429.66L174.80 431.36L175.80 433.07L176.80 434.79L177.80 436.52L178.80 438.27L179.80 440.03L180.80 441.80L181.80 443.58L182.80 445.38L183.80 447.20L184.80 449.03L185.80 450.88L186.80 452.75L187.80 454.63L188.80 456.54L189.80 458.46L190.80 460.40L191.80 462.37L192.80 464.35L193.80 466.36L194.80 468.39L195.80 470.44L196.80 472.52L197.80 474.62L198.80 476.74L199.80 478.89L200.80 481.05L201.80 483.24L202.80 485.44L203.80 487.67L204.80 489.91L205.80 492.17L206.80 494.45L207.80 496.75L208.80 499.06L209.80 501.39L210.80 503.73L211.80 506.09L212.80 508.46L213.80 510.85L214.80 513.25L215.80 515.66L216.80 518.08L217.80 520.51L218.80 522.95L219.80 525.40L220.80 527.86L221.80 530.33L222.80 532.81L223.80 535.30L224.80 537.79L225.80 540.28L226.80 542.79L227.80 545.29L228.80 547.79L229.80 550.28L230.80 552.75L231.80 555.22L232.80 557.66L233.80 560.08L234.80 562.47L235.80 564.82L236.80 567.14L237.80 569.42L238.80 571.66L239.80 573.85L240.80 575.98L241.80 578.06L242.80 580.09L243.80 582.07L244.80 583.99L245.80 585.87L246.80 587.71L247.80 589.50L248.80 591.25L249.80 592.96L250.80 594.63L251.80 596.27L252.80 597.88L253.80 599.46L254.80 601.00L255.80 602.53L256.80 604.02L257.80 605.45L258.80 606.79L259.80 608.01L260.80 609.07L261.80 609.98L262.80 610.73L263.80 611.33L264.80 611.77L265.80 612.07L266.80 612.21L267.80 612.20L268.80 612.05L269.80 611.76L270.80 611.32L271.80 610.75L272.80 610.03L273.80 609.18L274.80 608.19L275.80 607.08L276.80 605.83L277.80 604.45L278.80 602.94L279.80 601.31L280.80 599.56L281.80 597.68L282.80 595.68L283.80 593.57L284.80 591.34L285.80 588.99L286.80 586.54L287.80 583.97L288.80 581.28L289.80 578.48L290.80 575.56L291.80 572.52L292.80 569.35L293.80 566.06L294.80 562.64L295.80 559.09L296.80 555.40L297.80 551.58L298.80 547.63L299.80 543.53L300.80 539.30L301.80 534.93L302.80 530.43L303.80 525.81L304.80 521.07L305.80 516.22L306.80 511.26L307.80 506.19L308.80 501.03L309.80 495.78L310.80 490.44L311.80 485.02L312.80 479.52L313.80 473.95L314.80 468.32L315.80 462.63L316.80 456.88L317.80 451.08L318.80 445.23L319.80 439.35L320.80 433.43L321.80 427.48L322.80 421.51L323.80 415.52L324.80 409.52L325.80 403.52L326.80 397.53L327.80 391.55L328.80 385.61L329.80 379.70L330.80 373.84L331.80 368.04L332.80 362.30L333.80 356.63L334.80 351.01L335.80 345.43L336.80 339.88L337.80 334.36L338.80 328.85L339.80 323.39L340.80 317.97L341.80 312.60L342.80 307.30L343.80 302.07L344.80 296.93L345.80 291.87L346.80 286.91L347.80 282.04L348.80 277.28L349.80 272.62L350.80 268.07L351.80 263.64L352.80 259.34L353.80 255.16L354.80 251.11L355.80 247.20L356.80 243.43L357.80 239.81L358.80 236.34L359.80 233.03L360.80 229.89L361.80 226.91L362.80 224.10L363.80 221.47L364.80 219.03L365.80 216.77L366.80 214.70L367.80 212.82L368.80 211.12L369.80 209.60L370.80 208.26L371.80 207.10L372.80 206.11L373.80 205.28L374.80 204.63L375.80 204.14L376.80 203.81L377.80 203.63L378.80 203.62L379.80 203.75L380.80 204.04L381.80 204.47L382.80 205.05L383.80 205.76L384.80 206.62L385.80 207.61L386.80 208.74L387.80 210.00L388.80 211.38L389.80 212.89L390.80 214.52L391.80 216.27L392.80 218.13L393.80 220.11L394.80 222.20L395.80 224.39L396.80 226.69L397.80 229.08L398.80 231.56L399.80 234.13L400.80 236.79L401.80 239.52L402.80 242.33L403.80 245.22L404.80 248.16L405.80 251.18L406.80 254.25L407.80 257.37L408.80 260.55L409.80 263.77L410.80 267.06L411.80 270.40L412.80 273.81L413.80 277.28L414.80 280.82L415.80 284.44L416.80 288.13L417.80 291.91L418.80 295.77L419.80 299.73L420.80 303.77L421.80 307.91L422.80 312.15L423.80 316.49L424.80 320.92L425.80 325.42L426.80 329.98L427.80 334.57L428.80 339.17L429.80 343.77L430.80 348.35L431.80 352.89L432.80 357.37L433.80 361.78L434.80 366.08L435.80 370.28L436.80 374.35L437.80 378.31L438.80 382.16L439.80 385.93L440.80 389.63L441.80 393.26L442.80 396.84L443.80 400.38L444.80 403.90L445.80 407.41L446.80 410.92L447.80 414.45L448.80 418.00L449.80 421.59L450.80 425.23L451.80 428.90L452.80 432.59L453.80 436.29L454.80 439.97L455.80 443.61L456.80 447.21L457.80 450.74L458.80 454.19L459.80 457.54L460.80 460.79L461.80 463.93L462.80 467.00L463.80 469.99L464.80 472.91L465.80 475.78L466.80 478.60L467.80 481.39L468.80 484.16L469.80 486.91L470.80 489.65L471.80 492.39L472.80 495.12L473.80 497.84L474.80 500.55L475.80 503.23L476.80 505.89L477.80 508.53L478.80 511.13L479.80 513.70L480.80 516.23L481.80 518.71L482.80 521.15L483.80 523.54L484.80 525.88L485.80 528.18L486.80 530.42L487.80 532.62L488.80 534.77L489.80 536.87L490.80 538.93L491.80 540.95L492.80 542.92L493.80 544.85L494.80 546.74L495.80 548.58L496.80 550.38L497.80 552.15L498.80 553.87L499.80 555.55L500.80 557.20L501.80 558.80L502.80 560.38L503.80 561.91L504.80 563.41L505.80 564.87L506.80 566.30L507.80 567.70L508.80 569.06L509.80 570.39L510.80 571.69L511.80 572.96L512.80 574.20L513.80 575.41L514.80 576.59L515.80 577.74L516.80 578.86L517.80 579.96L518.80 581.03L519.80 582.08L520.80 583.10L521.80 584.09L522.80 585.07L523.80 586.02L524.80 586.95L525.80 587.85L526.80 588.74L527.80 589.61L528.80 590.45L529.80 591.28L530.80 592.09L531.80 592.89L532.80 593.66L533.80 594.43L534.80 595.17L535.80 595.90L536.80 596.62L537.80 597.32L538.80 598.02L539.80 598.70L540.80 599.37L541.80 600.02L542.80 600.67L543.80 601.31L544.80 601.94L545.80 602.55L546.80 603.16L547.80 603.75L548.80 604.34L549.80 604.92L550.80 605.49L551.80 606.04L552.80 606.59L553.80 607.13L554.80 607.66L555.80 608.18L556.80 608.69L557.80 609.20L558.80 609.69L559.80 610.18L560.80 610.66L561.80 611.12L562.80 611.59L563.80 612.04L564.80 612.48L565.80 612.92L566.80 613.35L567.80 613.77L568.80 614.19L569.80 614.59L570.80 614.99L571.80 615.38L572.80 615.77L573.80 616.15L574.80 616.52L575.80 616.88L576.80 617.24L577.80 617.59L578.80 617.94L579.80 618.28L580.80 618.61L581.80 618.94L582.80 619.26L583.80 619.57L584.80 619.88L585.80 620.19L586.80 620.49L587.80 620.78L588.80 621.07L589.80 621.35L590.80 621.63L591.80 621.90L592.80 622.17L593.80 622.44L594.80 622.70L595.80 622.95L596.80 623.20L597.80 623.45L598.80 623.69L599.80 623.93L600.80 624.17L601.80 624.40L602.80 624.62L603.80 624.85L604.80 625.07L605.80 625.28L606.80 625.49L607.80 625.70L608.80 625.90L609.80 626.10L610.80 626.30L611.80 626.49L612.80 626.68L613.80 626.87L614.80 627.05L615.80 627.23L616.80 627.40L617.80 627.57L618.80 627.74L619.80 627.91L620.80 628.07L621.80 628.22L622.80 628.38L623.80 628.53L624.80 628.68L625.80 628.82L626.80 628.96L627.80 629.10L628.80 629.23L629.80 629.36L630.80 629.49L631.80 629.62L632.80 629.74L633.80 629.86L634.80 629.98L635.80 630.09L636.80 630.20L637.80 630.31L638.80 630.41L639.80 630.51L640.80 630.61L641.80 630.71L642.80 630.80L643.80 630.89L644.80 630.98L645.80 631.06L646.80 631.14L647.80 631.22L648.80 631.30L649.80 631.38L650.80 631.45L651.80 631.52L652.80 631.58L653.80 631.65L654.80 631.71L655.80 631.77L656.80 631.83L657.80 631.88L658.80 631.94L659.80 631.99L660.80 632.04L661.80 632.08L662.80 632.13L663.80 632.17L664.80 632.21L665.80 632.24L666.80 632.28L667.80 632.31L668.80 632.35L669.80 632.38L670.80 632.40L671.80 632.43L672.80 632.45L673.80 632.47L674.80 632.49L675.80 632.51L676.80 632.53L677.80 632.55L678.80 632.56L679.80 632.57L680.80 632.58L681.80 632.59L682.80 632.60L683.80 632.60L684.80 632.60L685.80 632.61L686.80 632.61L687.80 632.61L688.80 632.60L689.80 632.60L690.80 632.60L691.80 632.59L692.80 632.58L693.80 632.57L694.80 632.56L695.80 632.55L696.80 632.54L697.80 632.53L698.80 632.51L699.80 632.50L700.80 632.48L701.80 632.46L702.80 632.44L703.80 632.42L704.80 632.40L705.80 632.38L706.80 632.36L707.80 632.33L708.80 632.31L709.80 632.28L710.80 632.26L711.80 632.23L712.80 632.20L713.80 632.17L714.80 632.14L715.80 632.11L716.80 632.08L717.80 632.05L718.80 632.02L719.80 631.99L720.80 631.95L721.80 631.92L722.80 631.88L723.80 631.85L724.80 631.81L725.80 631.78L726.80 631.74L727.80 631.71L728.80 631.67L729.80 631.63L730.80 631.60L731.80 631.56L732.80 631.52L733.80 631.48L734.80 631.44L735.80 631.40L736.80 631.37L737.80 631.33L738.80 631.29L739.80 631.25L740.80 631.21L741.80 631.17L742.80 631.13L743.80 631.09L744.80 631.06L745.80 631.02L746.80 630.98L747.80 630.94L748.80 630.90L749.80 630.86L750.80 630.83L751.80 630.79L752.80 630.75L753.80 630.71L755.30 630.66" fill="none" stroke="#ff0000" stroke-width="1.55" stroke-linejoin="round"/></g>
<rect x="86.80" y="43.15" width="668.50" height="668.65" fill="none" stroke="#000" stroke-width="1.60"/>
<path d="M128.58 711.80V702.20M128.58 43.15V52.75M170.36 711.80V692.30M170.36 43.15V62.65M212.14 711.80V702.20M212.14 43.15V52.75M253.93 711.80V702.20M253.93 43.15V52.75M295.71 711.80V702.20M295.71 43.15V52.75M337.49 711.80V692.30M337.49 43.15V62.65M379.27 711.80V702.20M379.27 43.15V52.75M421.05 711.80V702.20M421.05 43.15V52.75M462.83 711.80V702.20M462.83 43.15V52.75M504.61 711.80V692.30M504.61 43.15V62.65M546.39 711.80V702.20M546.39 43.15V52.75M588.17 711.80V702.20M588.17 43.15V52.75M629.96 711.80V702.20M629.96 43.15V52.75M671.74 711.80V692.30M671.74 43.15V62.65M713.52 711.80V702.20M713.52 43.15V52.75M86.80 687.04H96.40M755.30 687.04H745.70M86.80 637.51H96.40M755.30 637.51H745.70M86.80 587.98H106.30M755.30 587.98H735.80M86.80 538.45H96.40M755.30 538.45H745.70M86.80 488.92H96.40M755.30 488.92H745.70M86.80 439.39H96.40M755.30 439.39H745.70M86.80 389.86H96.40M755.30 389.86H745.70M86.80 340.33H106.30M755.30 340.33H735.80M86.80 290.80H96.40M755.30 290.80H745.70M86.80 241.27H96.40M755.30 241.27H745.70M86.80 191.74H96.40M755.30 191.74H745.70M86.80 142.21H96.40M755.30 142.21H745.70M86.80 92.68H106.30M755.30 92.68H735.80" fill="none" stroke="#000" stroke-width="1.45"/>
<path d="M521.30 192.00H596.90" fill="none" stroke="#000000" stroke-width="1.55" stroke-dasharray="10.9 3.9 2 3.9" stroke-dashoffset="14.8"/>
<path d="M521.30 236.00H596.90" fill="none" stroke="#00ff00" stroke-width="1.55" stroke-dasharray="19.4 2.5 1.3 2.5" stroke-dashoffset="0.0"/>
<path d="M521.30 281.00H596.90" fill="none" stroke="#cd5b45" stroke-width="1.55" stroke-dasharray="10.7 8.1" stroke-dashoffset="0.0"/>
<path d="M521.30 325.70H596.90" fill="none" stroke="#8b1a1a" stroke-width="1.55" stroke-dasharray="26.6 8.3" stroke-dashoffset="0.0"/>
<path d="M521.30 370.30H596.90" fill="none" stroke="#ff00ff" stroke-width="1.55" stroke-dasharray="2.2 3.8" stroke-dashoffset="0.0"/>
<path d="M521.30 414.80H596.90" fill="none" stroke="#ff0000" stroke-width="1.55"/>
<path d="M160.02 728.35L157.28 729.30L156.37 731.20L156.37 734.05L157.28 735.95L160.02 736.90L163.67 736.90L166.40 735.95L167.31 734.05L167.31 731.20L166.40 729.30L163.67 728.35L160.02 728.35M160.02 728.35L158.19 729.30L157.28 731.20L157.28 734.05L158.19 735.95L160.02 736.90M163.67 736.90L165.49 735.95L166.40 734.05L166.40 731.20L165.49 729.30L163.67 728.35M160.02 736.90L157.28 737.85L156.37 738.80L155.46 740.70L155.46 744.50L156.37 746.40L157.28 747.35L160.02 748.30L163.67 748.30L166.40 747.35L167.31 746.40L168.23 744.50L168.23 740.70L167.31 738.80L166.40 737.85L163.67 736.90M160.02 736.90L158.19 737.85L157.28 738.80L156.37 740.70L156.37 744.50L157.28 746.40L158.19 747.35L160.02 748.30M163.67 748.30L165.49 747.35L166.40 746.40L167.31 744.50L167.31 740.70L166.40 738.80L165.49 737.85L163.67 736.90M179.17 728.35L176.43 729.30L174.61 732.15L173.70 736.90L173.70 739.75L174.61 744.50L176.43 747.35L179.17 748.30L180.99 748.30L183.73 747.35L185.55 744.50L186.47 739.75L186.47 736.90L185.55 732.15L183.73 729.30L180.99 728.35L179.17 728.35M179.17 728.35L177.35 729.30L176.43 730.25L175.52 732.15L174.61 736.90L174.61 739.75L175.52 744.50L176.43 746.40L177.35 747.35L179.17 748.30M180.99 748.30L182.82 747.35L183.73 746.40L184.64 744.50L185.55 739.75L185.55 736.90L184.64 732.15L183.73 730.25L182.82 729.30L180.99 728.35M316.20 732.15L318.02 731.20L320.76 728.35L320.76 748.30M319.85 729.30L319.85 748.30M316.20 748.30L324.41 748.30M337.18 728.35L334.44 729.30L332.62 732.15L331.70 736.90L331.70 739.75L332.62 744.50L334.44 747.35L337.18 748.30L339.00 748.30L341.74 747.35L343.56 744.50L344.47 739.75L344.47 736.90L343.56 732.15L341.74 729.30L339.00 728.35L337.18 728.35M337.18 728.35L335.35 729.30L334.44 730.25L333.53 732.15L332.62 736.90L332.62 739.75L333.53 744.50L334.44 746.40L335.35 747.35L337.18 748.30M339.00 748.30L340.82 747.35L341.74 746.40L342.65 744.50L343.56 739.75L343.56 736.90L342.65 732.15L341.74 730.25L340.82 729.30L339.00 728.35M355.42 728.35L352.68 729.30L350.86 732.15L349.94 736.90L349.94 739.75L350.86 744.50L352.68 747.35L355.42 748.30L357.24 748.30L359.98 747.35L361.80 744.50L362.71 739.75L362.71 736.90L361.80 732.15L359.98 729.30L357.24 728.35L355.42 728.35M355.42 728.35L353.59 729.30L352.68 730.25L351.77 732.15L350.86 736.90L350.86 739.75L351.77 744.50L352.68 746.40L353.59 747.35L355.42 748.30M357.24 748.30L359.06 747.35L359.98 746.40L360.89 744.50L361.80 739.75L361.80 736.90L360.89 732.15L359.98 730.25L359.06 729.30L357.24 728.35M483.32 732.15L485.15 731.20L487.88 728.35L487.88 748.30M486.97 729.30L486.97 748.30M483.32 748.30L491.53 748.30M499.74 732.15L500.65 733.10L499.74 734.05L498.83 733.10L498.83 732.15L499.74 730.25L500.65 729.30L503.39 728.35L507.04 728.35L509.77 729.30L510.68 730.25L511.60 732.15L511.60 734.05L510.68 735.95L507.95 737.85L503.39 739.75L501.56 740.70L499.74 742.60L498.83 745.45L498.83 748.30M507.04 728.35L508.86 729.30L509.77 730.25L510.68 732.15L510.68 734.05L509.77 735.95L507.04 737.85L503.39 739.75M498.83 746.40L499.74 745.45L501.56 745.45L506.12 747.35L508.86 747.35L510.68 746.40L511.60 745.45M501.56 745.45L506.12 748.30L509.77 748.30L510.68 747.35L511.60 745.45L511.60 743.55M522.54 728.35L519.80 729.30L517.98 732.15L517.07 736.90L517.07 739.75L517.98 744.50L519.80 747.35L522.54 748.30L524.36 748.30L527.10 747.35L528.92 744.50L529.84 739.75L529.84 736.90L528.92 732.15L527.10 729.30L524.36 728.35L522.54 728.35M522.54 728.35L520.72 729.30L519.80 730.25L518.89 732.15L517.98 736.90L517.98 739.75L518.89 744.50L519.80 746.40L520.72 747.35L522.54 748.30M524.36 748.30L526.19 747.35L527.10 746.40L528.01 744.50L528.92 739.75L528.92 736.90L528.01 732.15L527.10 730.25L526.19 729.30L524.36 728.35M650.45 732.15L652.27 731.20L655.01 728.35L655.01 748.30M654.10 729.30L654.10 748.30M650.45 748.30L658.66 748.30M674.16 730.25L674.16 748.30M675.07 728.35L675.07 748.30M675.07 728.35L665.04 742.60L679.63 742.60M671.43 748.30L677.81 748.30M689.67 728.35L686.93 729.30L685.11 732.15L684.19 736.90L684.19 739.75L685.11 744.50L686.93 747.35L689.67 748.30L691.49 748.30L694.23 747.35L696.05 744.50L696.96 739.75L696.96 736.90L696.05 732.15L694.23 729.30L691.49 728.35L689.67 728.35M689.67 728.35L687.84 729.30L686.93 730.25L686.02 732.15L685.11 736.90L685.11 739.75L686.02 744.50L686.93 746.40L687.84 747.35L689.67 748.30M691.49 748.30L693.31 747.35L694.23 746.40L695.14 744.50L696.05 739.75L696.05 736.90L695.14 732.15L694.23 730.25L693.31 729.30L691.49 728.35M60.37 578.25L57.64 579.18L55.82 581.97L54.91 586.62L54.91 589.41L55.82 594.06L57.64 596.85L60.37 597.78L62.20 597.78L64.93 596.85L66.75 594.06L67.67 589.41L67.67 586.62L66.75 581.97L64.93 579.18L62.20 578.25L60.37 578.25M60.37 578.25L58.55 579.18L57.64 580.11L56.73 581.97L55.82 586.62L55.82 589.41L56.73 594.06L57.64 595.92L58.55 596.85L60.37 597.78M62.20 597.78L64.02 596.85L64.93 595.92L65.84 594.06L66.75 589.41L66.75 586.62L65.84 581.97L64.93 580.11L64.02 579.18L62.20 578.25M57.64 334.32L59.46 333.39L62.20 330.60L62.20 350.13M61.29 331.53L61.29 350.13M57.64 350.13L65.84 350.13M55.82 86.67L56.73 87.60L55.82 88.53L54.91 87.60L54.91 86.67L55.82 84.81L56.73 83.88L59.46 82.95L63.11 82.95L65.84 83.88L66.75 84.81L67.67 86.67L67.67 88.53L66.75 90.39L64.02 92.25L59.46 94.11L57.64 95.04L55.82 96.90L54.91 99.69L54.91 102.48M63.11 82.95L64.93 83.88L65.84 84.81L66.75 86.67L66.75 88.53L65.84 90.39L63.11 92.25L59.46 94.11M54.91 100.62L55.82 99.69L57.64 99.69L62.20 101.55L64.93 101.55L66.75 100.62L67.67 99.69M57.64 99.69L62.20 102.48L65.84 102.48L66.75 101.55L67.67 99.69L67.67 97.83M558.64 108.26L559.54 109.18L558.64 110.10L557.73 109.18L557.73 108.26L558.64 106.42L559.54 105.50L562.27 104.58L565.91 104.58L568.63 105.50L569.54 106.42L570.45 108.26L570.45 110.10L569.54 111.94L566.82 113.78L562.27 115.62L560.45 116.54L558.64 118.38L557.73 121.14L557.73 123.90M565.91 104.58L567.73 105.50L568.63 106.42L569.54 108.26L569.54 110.10L568.63 111.94L565.91 113.78L562.27 115.62M557.73 122.06L558.64 121.14L560.45 121.14L565.00 122.98L567.73 122.98L569.54 122.06L570.45 121.14M560.45 121.14L565.00 123.90L568.63 123.90L569.54 122.98L570.45 121.14L570.45 119.30M590.45 111.02L581.36 111.02L578.63 111.94L576.82 114.70L575.91 117.46L575.91 120.22L576.82 122.06L577.72 122.98L579.54 123.90L581.36 123.90L584.09 122.98L585.90 120.22L586.81 117.46L586.81 114.70L585.90 112.86L585.00 111.94L583.18 111.02M581.36 111.02L579.54 111.94L577.72 114.70L576.82 117.46L576.82 121.14L577.72 122.98M581.36 123.90L583.18 122.98L585.00 120.22L585.90 117.46L585.90 113.78L585.00 111.94M585.00 111.94L590.45 111.94M611.36 111.02L611.36 130.34M612.26 111.02L612.26 130.34M612.26 113.78L614.08 111.94L615.90 111.02L617.72 111.02L620.45 111.94L622.26 113.78L623.17 116.54L623.17 118.38L622.26 121.14L620.45 122.98L617.72 123.90L615.90 123.90L614.08 122.98L612.26 121.14M617.72 111.02L619.54 111.94L621.35 113.78L622.26 116.54L622.26 118.38L621.35 121.14L619.54 122.98L617.72 123.90M608.63 111.02L612.26 111.02M608.63 130.34L614.99 130.34M629.53 116.54L640.44 116.54L640.44 114.70L639.53 112.86L638.62 111.94L636.81 111.02L634.08 111.02L631.35 111.94L629.53 113.78L628.63 116.54L628.63 118.38L629.53 121.14L631.35 122.98L634.08 123.90L635.90 123.90L638.62 122.98L640.44 121.14M639.53 116.54L639.53 113.78L638.62 111.94M634.08 111.02L632.26 111.94L630.44 113.78L629.53 116.54L629.53 118.38L630.44 121.14L632.26 122.98L634.08 123.90M647.71 112.86L647.71 113.78L646.80 113.78L646.80 112.86L647.71 111.94L649.53 111.02L653.17 111.02L654.99 111.94L655.89 112.86L656.80 114.70L656.80 121.14L657.71 122.98L658.62 123.90M655.89 112.86L655.89 121.14L656.80 122.98L658.62 123.90L659.53 123.90M655.89 114.70L654.99 115.62L649.53 116.54L646.80 117.46L645.90 119.30L645.90 121.14L646.80 122.98L649.53 123.90L652.26 123.90L654.08 122.98L655.89 121.14M649.53 116.54L647.71 117.46L646.80 119.30L646.80 121.14L647.71 122.98L649.53 123.90M665.89 104.58L665.89 123.90M666.80 104.58L666.80 123.90M675.89 111.02L666.80 120.22M671.35 116.54L676.80 123.90M670.44 116.54L675.89 123.90M663.17 104.58L666.80 104.58M673.16 111.02L678.62 111.02M663.17 123.90L669.53 123.90M673.16 123.90L678.62 123.90M692.25 112.86L693.16 111.02L693.16 114.70L692.25 112.86L691.34 111.94L689.53 111.02L685.89 111.02L684.07 111.94L683.16 112.86L683.16 114.70L684.07 115.62L685.89 116.54L690.44 118.38L692.25 119.30L693.16 120.22M683.16 113.78L684.07 114.70L685.89 115.62L690.44 117.46L692.25 118.38L693.16 119.30L693.16 122.06L692.25 122.98L690.44 123.90L686.80 123.90L684.98 122.98L684.07 122.06L683.16 120.22L683.16 123.90L684.07 122.06M342.16 773.20L342.16 786.50M343.08 773.20L343.08 786.50M343.08 778.90L344.00 776.05L345.84 774.15L347.67 773.20L350.43 773.20L351.35 774.15L351.35 775.10L350.43 776.05L349.51 775.10L350.43 774.15M339.40 773.20L343.08 773.20M339.40 786.50L345.84 786.50M386.30 762.75L369.74 793.15M406.99 766.55L401.47 786.50M407.91 766.55L402.39 786.50M404.23 779.85L406.07 776.05L407.91 774.15L409.75 773.20L411.59 773.20L413.43 774.15L414.35 775.10L414.35 777.00L412.51 782.70L412.51 785.55L413.43 786.50M411.59 773.20L413.43 775.10L413.43 777.00L411.59 782.70L411.59 785.55L412.51 786.50L415.27 786.50L417.10 784.60L418.02 782.70M404.23 766.55L407.91 766.55M424.57 771.39L435.00 771.39M440.26 766.83L441.36 766.26L443.02 764.55L443.02 776.52M442.47 765.12L442.47 776.52M440.26 776.52L445.23 776.52M452.58 766.55L452.58 786.50M453.50 766.55L459.02 783.65M452.58 766.55L459.02 786.50M465.46 766.55L459.02 786.50M465.46 766.55L465.46 786.50M466.38 766.55L466.38 786.50M449.82 766.55L453.50 766.55M465.46 766.55L469.14 766.55M449.82 786.50L455.34 786.50M462.70 786.50L469.14 786.50M475.57 773.20L475.57 793.15M476.49 773.20L476.49 793.15M476.49 776.05L478.33 774.15L480.17 773.20L482.01 773.20L484.77 774.15L486.61 776.05L487.53 778.90L487.53 780.80L486.61 783.65L484.77 785.55L482.01 786.50L480.17 786.50L478.33 785.55L476.49 783.65M482.01 773.20L483.85 774.15L485.69 776.05L486.61 778.90L486.61 780.80L485.69 783.65L483.85 785.55L482.01 786.50M472.81 773.20L476.49 773.20M472.81 793.15L479.25 793.15M504.08 776.05L503.16 777.00L504.08 777.95L505.00 777.00L505.00 776.05L503.16 774.15L501.32 773.20L498.56 773.20L495.80 774.15L493.96 776.05L493.04 778.90L493.04 780.80L493.96 783.65L495.80 785.55L498.56 786.50L500.40 786.50L503.16 785.55L505.00 783.65M498.56 773.20L496.72 774.15L494.88 776.05L493.96 778.90L493.96 780.80L494.88 783.65L496.72 785.55L498.56 786.50M13.85 435.30L12.90 433.40L10.05 430.55L30.00 430.55M11.00 431.50L30.00 431.50M30.00 435.30L30.00 426.75M10.05 413.45L11.00 416.30L13.85 418.20L18.60 419.15L21.45 419.15L26.20 418.20L29.05 416.30L30.00 413.45L30.00 411.55L29.05 408.70L26.20 406.80L21.45 405.85L18.60 405.85L13.85 406.80L11.00 408.70L10.05 411.55L10.05 413.45M10.05 413.45L11.00 415.35L11.95 416.30L13.85 417.25L18.60 418.20L21.45 418.20L26.20 417.25L28.10 416.30L29.05 415.35L30.00 413.45M30.00 411.55L29.05 409.65L28.10 408.70L26.20 407.75L21.45 406.80L18.60 406.80L13.85 407.75L11.95 408.70L11.00 409.65L10.05 411.55M10.33 400.72L10.90 400.15L11.47 400.72L10.90 401.29L10.33 401.29L9.20 400.72L8.62 400.15L8.05 398.44L8.05 396.16L8.62 394.45L9.76 393.88L11.47 393.88L12.61 394.45L13.18 396.16L13.18 397.87M8.05 396.16L8.62 395.02L9.76 394.45L11.47 394.45L12.61 395.02L13.18 396.16M13.18 396.16L13.75 395.02L14.89 393.88L16.04 393.31L17.74 393.31L18.88 393.88L19.45 394.45L20.02 396.16L20.02 398.44L19.45 400.15L18.88 400.72L17.74 401.29L17.17 401.29L16.60 400.72L17.17 400.15L17.74 400.72M14.32 394.45L16.04 393.88L17.74 393.88L18.88 394.45L19.45 395.02L20.02 396.16M14.89 391.12L28.00 378.02M14.89 378.02L28.00 391.12M10.05 363.81L11.00 365.71L11.95 366.66L12.90 366.66L13.85 365.71L14.80 362.86L14.80 360.01M14.80 362.86L15.75 366.66L16.70 368.56L18.60 369.51L20.50 369.51L22.40 367.61L23.35 364.76L23.35 361.91M14.80 362.86L15.75 365.71L16.70 367.61L18.60 368.56L20.50 368.56L22.40 366.66L23.35 364.76M23.35 364.76L24.30 368.56L25.25 370.46L27.15 371.41L29.05 371.41L30.95 369.51L32.85 364.76L33.80 363.81L35.70 363.81L36.65 365.71L36.65 367.61M23.35 364.76L24.30 367.61L25.25 369.51L27.15 370.46L29.05 370.46L30.95 368.56L32.85 364.76M6.25 344.15L8.15 346.05L11.00 347.95L14.80 349.85L19.55 350.80L23.35 350.80L28.10 349.85L31.90 347.95L34.75 346.05L36.65 344.15M8.15 346.05L11.95 347.95L14.80 348.90L19.55 349.85L23.35 349.85L28.10 348.90L30.95 347.95L34.75 346.05M16.70 339.68L30.00 339.68M16.70 338.73L30.00 338.73M22.40 338.73L19.55 337.78L17.65 335.88L16.70 333.98L16.70 331.13L17.65 330.18L18.60 330.18L19.55 331.13L18.60 332.08L17.65 331.13M16.70 342.53L16.70 338.73M30.00 342.53L30.00 335.88M6.25 324.48L8.15 322.58L11.00 320.68L14.80 318.78L19.55 317.83L23.35 317.83L28.10 318.78L31.90 320.68L34.75 322.58L36.65 324.48M8.15 322.58L11.95 320.68L14.80 319.73L19.55 318.78L23.35 318.78L28.10 319.73L30.95 320.68L34.75 322.58" fill="none" stroke="#000" stroke-width="1.40" stroke-linecap="round" stroke-linejoin="round"/><path d="M615.41 176.39L615.41 174.83L616.19 172.49L617.75 171.71L619.31 171.71L620.87 172.49L623.98 174.83L625.54 175.61L627.10 175.61L628.65 174.83L629.43 173.27M615.41 174.83L616.19 173.27L617.75 172.49L619.31 172.49L620.87 173.27L623.98 175.61L625.54 176.39L627.10 176.39L628.65 175.61L629.43 173.27L629.43 171.71M618.65 178.31L618.65 196.90M619.54 178.31L619.54 196.90M619.54 187.17L621.31 185.40L623.08 184.51L624.85 184.51L627.50 185.40L629.27 187.17L630.16 189.82L630.16 191.59L629.27 194.25L627.50 196.02L624.85 196.90L623.08 196.90L621.31 196.02L619.54 194.25M624.85 184.51L626.62 185.40L628.39 187.17L629.27 189.82L629.27 191.59L628.39 194.25L626.62 196.02L624.85 196.90M616.00 178.31L619.54 178.31M634.94 178.58L635.47 179.11L634.94 179.64L634.41 179.11L634.41 178.58L634.94 177.52L635.47 176.99L637.06 176.46L639.18 176.46L640.78 176.99L641.31 177.52L641.84 178.58L641.84 179.64L641.31 180.70L639.72 181.77L637.06 182.83L636.00 183.36L634.94 184.42L634.41 186.01L634.41 187.61M639.18 176.46L640.25 176.99L640.78 177.52L641.31 178.58L641.31 179.64L640.78 180.70L639.18 181.77L637.06 182.83M634.41 186.55L634.94 186.01L636.00 186.01L638.65 187.08L640.25 187.08L641.31 186.55L641.84 186.01M636.00 186.01L638.65 187.61L640.78 187.61L641.31 187.08L641.84 186.01L641.84 184.95M636.00 197.17L637.06 196.63L638.65 195.04L638.65 206.19M638.12 195.57L638.12 206.19M636.00 206.19L640.78 206.19M648.21 195.04L646.62 195.57L645.56 197.17L645.03 199.82L645.03 201.41L645.56 204.07L646.62 205.66L648.21 206.19L649.27 206.19L650.87 205.66L651.93 204.07L652.46 201.41L652.46 199.82L651.93 197.17L650.87 195.57L649.27 195.04L648.21 195.04M648.21 195.04L647.15 195.57L646.62 196.10L646.09 197.17L645.56 199.82L645.56 201.41L646.09 204.07L646.62 205.13L647.15 205.66L648.21 206.19M649.27 206.19L650.34 205.66L650.87 205.13L651.40 204.07L651.93 201.41L651.93 199.82L651.40 197.17L650.87 196.10L650.34 195.57L649.27 195.04M667.50 178.31L665.73 179.20L664.85 180.09L664.85 180.97L665.73 181.86L668.39 182.74L671.04 182.74M668.39 182.74L664.85 183.62L663.08 184.51L662.19 186.28L662.19 188.05L663.96 189.82L666.62 190.71L669.27 190.71M668.39 182.74L665.73 183.62L663.96 184.51L663.08 186.28L663.08 188.05L664.85 189.82L666.62 190.71M666.62 190.71L663.08 191.59L661.31 192.47L660.42 194.25L660.42 196.02L662.19 197.78L666.62 199.56L667.50 200.44L667.50 202.21L665.73 203.09L663.96 203.09M666.62 190.71L663.96 191.59L662.19 192.47L661.31 194.25L661.31 196.02L663.08 197.78L666.62 199.56M680.43 199.29L679.36 198.76L678.30 198.76L676.71 199.29L675.65 200.88L675.12 202.48L675.12 204.07L675.65 205.13L676.18 205.66L677.24 206.19L678.30 206.19L679.89 205.66L680.96 204.07L681.49 202.48L681.49 200.88L680.96 199.82L678.83 197.17L678.30 196.10L678.30 195.04L678.83 194.51L679.89 194.51L680.96 195.04L682.02 196.10M678.30 198.76L677.24 199.29L676.18 200.88L675.65 202.48L675.65 204.60L676.18 205.66M678.30 206.19L679.36 205.66L680.43 204.07L680.96 202.48L680.96 200.35L680.43 199.29L679.36 197.70L678.83 196.63L678.83 195.57L679.36 195.04L680.43 195.04L682.02 196.10" fill="none" stroke="#000000" stroke-width="1.40" stroke-linecap="round" stroke-linejoin="round"/><path d="M615.41 223.39L615.41 221.83L616.19 219.49L617.75 218.71L619.31 218.71L620.87 219.49L623.98 221.83L625.54 222.61L627.10 222.61L628.65 221.83L629.43 220.27M615.41 221.83L616.19 220.27L617.75 219.49L619.31 219.49L620.87 220.27L623.98 222.61L625.54 223.39L627.10 223.39L628.65 222.61L629.43 220.27L629.43 218.71M618.65 225.31L618.65 243.90M619.54 225.31L619.54 243.90M619.54 234.17L621.31 232.40L623.08 231.51L624.85 231.51L627.50 232.40L629.27 234.17L630.16 236.82L630.16 238.59L629.27 241.25L627.50 243.02L624.85 243.90L623.08 243.90L621.31 243.02L619.54 241.25M624.85 231.51L626.62 232.40L628.39 234.17L629.27 236.82L629.27 238.59L628.39 241.25L626.62 243.02L624.85 243.90M616.00 225.31L619.54 225.31M634.94 225.58L635.47 226.11L634.94 226.64L634.41 226.11L634.41 225.58L634.94 224.52L635.47 223.99L637.06 223.46L639.18 223.46L640.78 223.99L641.31 224.52L641.84 225.58L641.84 226.64L641.31 227.70L639.72 228.77L637.06 229.83L636.00 230.36L634.94 231.42L634.41 233.01L634.41 234.61M639.18 223.46L640.25 223.99L640.78 224.52L641.31 225.58L641.31 226.64L640.78 227.70L639.18 228.77L637.06 229.83M634.41 233.55L634.94 233.01L636.00 233.01L638.65 234.08L640.25 234.08L641.31 233.55L641.84 233.01M636.00 233.01L638.65 234.61L640.78 234.61L641.31 234.08L641.84 233.01L641.84 231.95M636.00 244.17L637.06 243.63L638.65 242.04L638.65 253.19M638.12 242.57L638.12 253.19M636.00 253.19L640.78 253.19M648.21 242.04L646.62 242.57L645.56 244.17L645.03 246.82L645.03 248.41L645.56 251.07L646.62 252.66L648.21 253.19L649.27 253.19L650.87 252.66L651.93 251.07L652.46 248.41L652.46 246.82L651.93 244.17L650.87 242.57L649.27 242.04L648.21 242.04M648.21 242.04L647.15 242.57L646.62 243.10L646.09 244.17L645.56 246.82L645.56 248.41L646.09 251.07L646.62 252.13L647.15 252.66L648.21 253.19M649.27 253.19L650.34 252.66L650.87 252.13L651.40 251.07L651.93 248.41L651.93 246.82L651.40 244.17L650.87 243.10L650.34 242.57L649.27 242.04M667.50 225.31L665.73 226.20L664.85 227.09L664.85 227.97L665.73 228.86L668.39 229.74L671.04 229.74M668.39 229.74L664.85 230.62L663.08 231.51L662.19 233.28L662.19 235.05L663.96 236.82L666.62 237.71L669.27 237.71M668.39 229.74L665.73 230.62L663.96 231.51L663.08 233.28L663.08 235.05L664.85 236.82L666.62 237.71M666.62 237.71L663.08 238.59L661.31 239.47L660.42 241.25L660.42 243.02L662.19 244.78L666.62 246.56L667.50 247.44L667.50 249.21L665.73 250.09L663.96 250.09M666.62 237.71L663.96 238.59L662.19 239.47L661.31 241.25L661.31 243.02L663.08 244.78L666.62 246.56M678.66 222.39L677.59 223.46L676.53 225.05L675.47 227.17L674.94 229.83L674.94 231.95L675.47 234.61L676.53 236.73L677.59 238.32L678.66 239.39M677.59 223.46L676.53 225.58L676.00 227.17L675.47 229.83L675.47 231.95L676.00 234.61L676.53 236.20L677.59 238.32M685.56 224.52L683.97 225.05L682.90 226.64L682.37 229.30L682.37 230.89L682.90 233.55L683.97 235.14L685.56 235.67L686.62 235.67L688.21 235.14L689.28 233.55L689.81 230.89L689.81 229.30L689.28 226.64L688.21 225.05L686.62 224.52L685.56 224.52M685.56 224.52L684.50 225.05L683.97 225.58L683.43 226.64L682.90 229.30L682.90 230.89L683.43 233.55L683.97 234.61L684.50 235.14L685.56 235.67M686.62 235.67L687.68 235.14L688.21 234.61L688.74 233.55L689.28 230.89L689.28 229.30L688.74 226.64L688.21 225.58L687.68 225.05L686.62 224.52M693.52 222.39L694.59 223.46L695.65 225.05L696.71 227.17L697.24 229.83L697.24 231.95L696.71 234.61L695.65 236.73L694.59 238.32L693.52 239.39M694.59 223.46L695.65 225.58L696.18 227.17L696.71 229.83L696.71 231.95L696.18 234.61L695.65 236.20L694.59 238.32M677.59 242.04L676.00 242.57L674.94 244.17L674.41 246.82L674.41 248.41L674.94 251.07L676.00 252.66L677.59 253.19L678.66 253.19L680.25 252.66L681.31 251.07L681.84 248.41L681.84 246.82L681.31 244.17L680.25 242.57L678.66 242.04L677.59 242.04M677.59 242.04L676.53 242.57L676.00 243.10L675.47 244.17L674.94 246.82L674.94 248.41L675.47 251.07L676.00 252.13L676.53 252.66L677.59 253.19M678.66 253.19L679.72 252.66L680.25 252.13L680.78 251.07L681.31 248.41L681.31 246.82L680.78 244.17L680.25 243.10L679.72 242.57L678.66 242.04" fill="none" stroke="#00ff00" stroke-width="1.40" stroke-linecap="round" stroke-linejoin="round"/><path d="M616.44 272.85L617.32 273.74L616.44 274.62L615.55 273.74L615.55 272.85L616.44 271.08L617.32 270.20L619.98 269.31L623.52 269.31L626.17 270.20L627.06 271.08L627.94 272.85L627.94 274.62L627.06 276.39L624.40 278.16L619.98 279.94L618.21 280.82L616.44 282.59L615.55 285.25L615.55 287.90M623.52 269.31L625.29 270.20L626.17 271.08L627.06 272.85L627.06 274.62L626.17 276.39L623.52 278.16L619.98 279.94M615.55 286.13L616.44 285.25L618.21 285.25L622.63 287.01L625.29 287.01L627.06 286.13L627.94 285.25M618.21 285.25L622.63 287.90L626.17 287.90L627.06 287.01L627.94 285.25L627.94 283.47M633.11 267.39L633.11 265.83L633.89 263.49L635.45 262.71L637.01 262.71L638.56 263.49L641.68 265.83L643.24 266.61L644.80 266.61L646.35 265.83L647.13 264.27M633.11 265.83L633.89 264.27L635.45 263.49L637.01 263.49L638.56 264.27L641.68 266.61L643.24 267.39L644.80 267.39L646.35 266.61L647.13 264.27L647.13 262.71M636.35 269.31L636.35 287.90M637.24 269.31L637.24 287.90M637.24 278.16L639.01 276.39L640.78 275.51L642.55 275.51L645.20 276.39L646.97 278.16L647.86 280.82L647.86 282.59L646.97 285.25L645.20 287.01L642.55 287.90L640.78 287.90L639.01 287.01L637.24 285.25M642.55 275.51L644.32 276.39L646.09 278.16L646.97 280.82L646.97 282.59L646.09 285.25L644.32 287.01L642.55 287.90M633.70 269.31L637.24 269.31M653.70 288.17L654.76 287.63L656.35 286.04L656.35 297.19M655.82 286.57L655.82 297.19M653.70 297.19L658.48 297.19M665.91 286.04L664.32 286.57L663.26 288.17L662.73 290.82L662.73 292.41L663.26 295.07L664.32 296.66L665.91 297.19L666.97 297.19L668.57 296.66L669.63 295.07L670.16 292.41L670.16 290.82L669.63 288.17L668.57 286.57L666.97 286.04L665.91 286.04M665.91 286.04L664.85 286.57L664.32 287.10L663.79 288.17L663.26 290.82L663.26 292.41L663.79 295.07L664.32 296.13L664.85 296.66L665.91 297.19M666.97 297.19L668.04 296.66L668.57 296.13L669.10 295.07L669.63 292.41L669.63 290.82L669.10 288.17L668.57 287.10L668.04 286.57L666.97 286.04M674.27 267.39L674.27 265.83L675.04 263.49L676.60 262.71L678.16 262.71L679.72 263.49L682.83 265.83L684.39 266.61L685.95 266.61L687.51 265.83L688.28 264.27M674.27 265.83L675.04 264.27L676.60 263.49L678.16 263.49L679.72 264.27L682.83 266.61L684.39 267.39L685.95 267.39L687.51 266.61L688.28 264.27L688.28 262.71M677.50 269.31L677.50 287.90M678.39 269.31L678.39 287.90M678.39 278.16L680.16 276.39L681.93 275.51L683.70 275.51L686.35 276.39L688.12 278.16L689.01 280.82L689.01 282.59L688.12 285.25L686.35 287.01L683.70 287.90L681.93 287.90L680.16 287.01L678.39 285.25M683.70 275.51L685.47 276.39L687.24 278.16L688.12 280.82L688.12 282.59L687.24 285.25L685.47 287.01L683.70 287.90M674.85 269.31L678.39 269.31M696.44 286.04L694.85 286.57L693.79 288.17L693.26 290.82L693.26 292.41L693.79 295.07L694.85 296.66L696.44 297.19L697.51 297.19L699.10 296.66L700.16 295.07L700.69 292.41L700.69 290.82L700.16 288.17L699.10 286.57L697.51 286.04L696.44 286.04M696.44 286.04L695.38 286.57L694.85 287.10L694.32 288.17L693.79 290.82L693.79 292.41L694.32 295.07L694.85 296.13L695.38 296.66L696.44 297.19M697.51 297.19L698.57 296.66L699.10 296.13L699.63 295.07L700.16 292.41L700.16 290.82L699.63 288.17L699.10 287.10L698.57 286.57L697.51 286.04M705.47 288.17L706.53 287.63L708.13 286.04L708.13 297.19M707.59 286.57L707.59 297.19M705.47 297.19L710.25 297.19M723.52 269.31L721.75 270.20L720.87 271.08L720.87 271.97L721.75 272.85L724.41 273.74L727.06 273.74M724.41 273.74L720.87 274.62L719.10 275.51L718.21 277.28L718.21 279.05L719.99 280.82L722.64 281.70L725.29 281.70M724.41 273.74L721.75 274.62L719.99 275.51L719.10 277.28L719.10 279.05L720.87 280.82L722.64 281.70M722.64 281.70L719.10 282.59L717.33 283.47L716.44 285.25L716.44 287.01L718.21 288.78L722.64 290.55L723.52 291.44L723.52 293.21L721.75 294.09L719.99 294.09M722.64 281.70L719.99 282.59L718.21 283.47L717.33 285.25L717.33 287.01L719.10 288.78L722.64 290.55M734.68 266.39L733.61 267.46L732.55 269.05L731.49 271.17L730.96 273.83L730.96 275.95L731.49 278.61L732.55 280.73L733.61 282.32L734.68 283.39M733.61 267.46L732.55 269.58L732.02 271.17L731.49 273.83L731.49 275.95L732.02 278.61L732.55 280.20L733.61 282.32M739.99 270.64L741.05 270.11L742.64 268.52L742.64 279.67M742.11 269.05L742.11 279.67M739.99 279.67L744.76 279.67M749.54 266.39L750.61 267.46L751.67 269.05L752.73 271.17L753.26 273.83L753.26 275.95L752.73 278.61L751.67 280.73L750.61 282.32L749.54 283.39M750.61 267.46L751.67 269.58L752.20 271.17L752.73 273.83L752.73 275.95L752.20 278.61L751.67 280.20L750.61 282.32M733.61 286.04L732.02 286.57L730.96 288.17L730.43 290.82L730.43 292.41L730.96 295.07L732.02 296.66L733.61 297.19L734.68 297.19L736.27 296.66L737.33 295.07L737.86 292.41L737.86 290.82L737.33 288.17L736.27 286.57L734.68 286.04L733.61 286.04M733.61 286.04L732.55 286.57L732.02 287.10L731.49 288.17L730.96 290.82L730.96 292.41L731.49 295.07L732.02 296.13L732.55 296.66L733.61 297.19M734.68 297.19L735.74 296.66L736.27 296.13L736.80 295.07L737.33 292.41L737.33 290.82L736.80 288.17L736.27 287.10L735.74 286.57L734.68 286.04" fill="none" stroke="#cd5b45" stroke-width="1.40" stroke-linecap="round" stroke-linejoin="round"/><path d="M615.41 312.49L615.41 310.93L616.19 308.59L617.75 307.81L619.31 307.81L620.87 308.59L623.98 310.93L625.54 311.71L627.10 311.71L628.65 310.93L629.43 309.37M615.41 310.93L616.19 309.37L617.75 308.59L619.31 308.59L620.87 309.37L623.98 311.71L625.54 312.49L627.10 312.49L628.65 311.71L629.43 309.37L629.43 307.81M618.65 314.42L618.65 333.00M619.54 314.42L619.54 333.00M619.54 323.26L621.31 321.50L623.08 320.61L624.85 320.61L627.50 321.50L629.27 323.26L630.16 325.92L630.16 327.69L629.27 330.35L627.50 332.12L624.85 333.00L623.08 333.00L621.31 332.12L619.54 330.35M624.85 320.61L626.62 321.50L628.39 323.26L629.27 325.92L629.27 327.69L628.39 330.35L626.62 332.12L624.85 333.00M616.00 314.42L619.54 314.42M634.94 314.68L635.47 315.21L634.94 315.74L634.41 315.21L634.41 314.68L634.94 313.62L635.47 313.09L637.06 312.56L639.18 312.56L640.78 313.09L641.31 313.62L641.84 314.68L641.84 315.74L641.31 316.80L639.72 317.87L637.06 318.93L636.00 319.46L634.94 320.52L634.41 322.11L634.41 323.71M639.18 312.56L640.25 313.09L640.78 313.62L641.31 314.68L641.31 315.74L640.78 316.80L639.18 317.87L637.06 318.93M634.41 322.65L634.94 322.11L636.00 322.11L638.65 323.18L640.25 323.18L641.31 322.65L641.84 322.11M636.00 322.11L638.65 323.71L640.78 323.71L641.31 323.18L641.84 322.11L641.84 321.05M637.59 331.14L636.00 331.67L634.94 333.27L634.41 335.92L634.41 337.51L634.94 340.17L636.00 341.76L637.59 342.29L638.65 342.29L640.25 341.76L641.31 340.17L641.84 337.51L641.84 335.92L641.31 333.27L640.25 331.67L638.65 331.14L637.59 331.14M637.59 331.14L636.53 331.67L636.00 332.20L635.47 333.27L634.94 335.92L634.94 337.51L635.47 340.17L636.00 341.23L636.53 341.76L637.59 342.29M638.65 342.29L639.72 341.76L640.25 341.23L640.78 340.17L641.31 337.51L641.31 335.92L640.78 333.27L640.25 332.20L639.72 331.67L638.65 331.14M646.62 333.27L647.68 332.73L649.27 331.14L649.27 342.29M648.74 331.67L648.74 342.29M646.62 342.29L651.40 342.29M667.50 314.42L665.73 315.30L664.85 316.19L664.85 317.07L665.73 317.95L668.39 318.84L671.04 318.84M668.39 318.84L664.85 319.73L663.08 320.61L662.19 322.38L662.19 324.15L663.96 325.92L666.62 326.81L669.27 326.81M668.39 318.84L665.73 319.73L663.96 320.61L663.08 322.38L663.08 324.15L664.85 325.92L666.62 326.81M666.62 326.81L663.08 327.69L661.31 328.57L660.42 330.35L660.42 332.12L662.19 333.88L666.62 335.65L667.50 336.54L667.50 338.31L665.73 339.19L663.96 339.19M666.62 326.81L663.96 327.69L662.19 328.57L661.31 330.35L661.31 332.12L663.08 333.88L666.62 335.65M678.66 311.49L677.59 312.56L676.53 314.15L675.47 316.27L674.94 318.93L674.94 321.05L675.47 323.71L676.53 325.83L677.59 327.42L678.66 328.49M677.59 312.56L676.53 314.68L676.00 316.27L675.47 318.93L675.47 321.05L676.00 323.71L676.53 325.30L677.59 327.42M682.90 315.74L683.43 316.27L682.90 316.80L682.37 316.27L682.37 315.74L682.90 314.68L683.43 314.15L685.03 313.62L687.15 313.62L688.74 314.15L689.28 314.68L689.81 315.74L689.81 316.80L689.28 317.87L687.68 318.93L685.03 319.99L683.97 320.52L682.90 321.58L682.37 323.18L682.37 324.77M687.15 313.62L688.21 314.15L688.74 314.68L689.28 315.74L689.28 316.80L688.74 317.87L687.15 318.93L685.03 319.99M682.37 323.71L682.90 323.18L683.97 323.18L686.62 324.24L688.21 324.24L689.28 323.71L689.81 323.18M683.97 323.18L686.62 324.77L688.74 324.77L689.28 324.24L689.81 323.18L689.81 322.11M693.52 311.49L694.59 312.56L695.65 314.15L696.71 316.27L697.24 318.93L697.24 321.05L696.71 323.71L695.65 325.83L694.59 327.42L693.52 328.49M694.59 312.56L695.65 314.68L696.18 316.27L696.71 318.93L696.71 321.05L696.18 323.71L695.65 325.30L694.59 327.42M677.59 331.14L676.00 331.67L674.94 333.27L674.41 335.92L674.41 337.51L674.94 340.17L676.00 341.76L677.59 342.29L678.66 342.29L680.25 341.76L681.31 340.17L681.84 337.51L681.84 335.92L681.31 333.27L680.25 331.67L678.66 331.14L677.59 331.14M677.59 331.14L676.53 331.67L676.00 332.20L675.47 333.27L674.94 335.92L674.94 337.51L675.47 340.17L676.00 341.23L676.53 341.76L677.59 342.29M678.66 342.29L679.72 341.76L680.25 341.23L680.78 340.17L681.31 337.51L681.31 335.92L680.78 333.27L680.25 332.20L679.72 331.67L678.66 331.14" fill="none" stroke="#8b1a1a" stroke-width="1.40" stroke-linecap="round" stroke-linejoin="round"/><path d="M622.72 359.92L620.95 360.80L620.07 361.69L620.07 362.57L620.95 363.45L623.61 364.34L626.26 364.34M623.61 364.34L620.07 365.23L618.30 366.11L617.41 367.88L617.41 369.65L619.18 371.42L621.84 372.31L624.49 372.31M623.61 364.34L620.95 365.23L619.18 366.11L618.30 367.88L618.30 369.65L620.07 371.42L621.84 372.31M621.84 372.31L618.30 373.19L616.53 374.07L615.64 375.85L615.64 377.62L617.41 379.38L621.84 381.15L622.72 382.04L622.72 383.81L620.95 384.69L619.18 384.69M621.84 372.31L619.18 373.19L617.41 374.07L616.53 375.85L616.53 377.62L618.30 379.38L621.84 381.15M633.87 356.99L632.81 358.06L631.75 359.65L630.69 361.77L630.16 364.43L630.16 366.55L630.69 369.21L631.75 371.33L632.81 372.92L633.87 373.99M632.81 358.06L631.75 360.18L631.22 361.77L630.69 364.43L630.69 366.55L631.22 369.21L631.75 370.80L632.81 372.92M638.12 361.24L638.65 361.77L638.12 362.30L637.59 361.77L637.59 361.24L638.12 360.18L638.65 359.65L640.25 359.12L642.37 359.12L643.96 359.65L644.49 360.18L645.03 361.24L645.03 362.30L644.49 363.37L642.90 364.43L640.25 365.49L639.18 366.02L638.12 367.08L637.59 368.68L637.59 370.27M642.37 359.12L643.43 359.65L643.96 360.18L644.49 361.24L644.49 362.30L643.96 363.37L642.37 364.43L640.25 365.49M637.59 369.21L638.12 368.68L639.18 368.68L641.84 369.74L643.43 369.74L644.49 369.21L645.03 368.68M639.18 368.68L641.84 370.27L643.96 370.27L644.49 369.74L645.03 368.68L645.03 367.61M648.74 356.99L649.80 358.06L650.87 359.65L651.93 361.77L652.46 364.43L652.46 366.55L651.93 369.21L650.87 371.33L649.80 372.92L648.74 373.99M649.80 358.06L650.87 360.18L651.40 361.77L651.93 364.43L651.93 366.55L651.40 369.21L650.87 370.80L649.80 372.92M630.93 379.68L630.93 391.85M631.51 379.68L631.51 391.85M631.51 381.42L632.67 380.26L633.83 379.68L634.99 379.68L636.73 380.26L637.89 381.42L638.47 383.16L638.47 384.31L637.89 386.05L636.73 387.21L634.99 387.79L633.83 387.79L632.67 387.21L631.51 386.05M634.99 379.68L636.15 380.26L637.31 381.42L637.89 383.16L637.89 384.31L637.31 386.05L636.15 387.21L634.99 387.79M629.19 379.68L631.51 379.68M629.19 391.85L633.25 391.85M643.11 375.62L643.11 387.79M643.68 375.62L643.68 387.79M649.48 379.68L643.68 385.47M646.58 383.16L650.06 387.79M646.00 383.16L649.48 387.79M641.37 375.62L643.68 375.62M647.74 379.68L651.22 379.68M641.37 387.79L645.42 387.79M647.74 387.79L651.22 387.79" fill="none" stroke="#ff00ff" stroke-width="1.40" stroke-linecap="round" stroke-linejoin="round"/><path d="M622.72 404.12L620.95 405.00L620.07 405.88L620.07 406.77L620.95 407.65L623.61 408.54L626.26 408.54M623.61 408.54L620.07 409.43L618.30 410.31L617.41 412.08L617.41 413.85L619.18 415.62L621.84 416.50L624.49 416.50M623.61 408.54L620.95 409.43L619.18 410.31L618.30 412.08L618.30 413.85L620.07 415.62L621.84 416.50M621.84 416.50L618.30 417.39L616.53 418.27L615.64 420.05L615.64 421.81L617.41 423.58L621.84 425.35L622.72 426.24L622.72 428.01L620.95 428.89L619.18 428.89M621.84 416.50L619.18 417.39L617.41 418.27L616.53 420.05L616.53 421.81L618.30 423.58L621.84 425.35M633.87 401.19L632.81 402.26L631.75 403.85L630.69 405.97L630.16 408.63L630.16 410.75L630.69 413.41L631.75 415.53L632.81 417.12L633.87 418.19M632.81 402.26L631.75 404.38L631.22 405.97L630.69 408.63L630.69 410.75L631.22 413.41L631.75 415.00L632.81 417.12M639.01 405.44L640.07 404.91L641.66 403.32L641.66 414.47M641.13 403.85L641.13 414.47M639.01 414.47L643.79 414.47M648.39 401.19L649.45 402.26L650.51 403.85L651.57 405.97L652.11 408.63L652.11 410.75L651.57 413.41L650.51 415.53L649.45 417.12L648.39 418.19M649.45 402.26L650.51 404.38L651.04 405.97L651.57 408.63L651.57 410.75L651.04 413.41L650.51 415.00L649.45 417.12M630.93 423.88L630.93 436.05M631.51 423.88L631.51 436.05M631.51 425.62L632.67 424.46L633.83 423.88L634.99 423.88L636.73 424.46L637.89 425.62L638.47 427.36L638.47 428.51L637.89 430.25L636.73 431.41L634.99 431.99L633.83 431.99L632.67 431.41L631.51 430.25M634.99 423.88L636.15 424.46L637.31 425.62L637.89 427.36L637.89 428.51L637.31 430.25L636.15 431.41L634.99 431.99M629.19 423.88L631.51 423.88M629.19 436.05L633.25 436.05M643.11 419.82L643.11 431.99M643.68 419.82L643.68 431.99M649.48 423.88L643.68 429.67M646.58 427.36L650.06 431.99M646.00 427.36L649.48 431.99M641.37 419.82L643.68 419.82M647.74 423.88L651.22 423.88M641.37 431.99L645.42 431.99M647.74 431.99L651.22 431.99M666.00 406.77L666.00 422.70M658.03 414.74L673.97 414.74M687.51 404.12L685.74 405.00L684.85 405.88L684.85 406.77L685.74 407.65L688.39 408.54L691.05 408.54M688.39 408.54L684.85 409.43L683.08 410.31L682.20 412.08L682.20 413.85L683.97 415.62L686.62 416.50L689.28 416.50M688.39 408.54L685.74 409.43L683.97 410.31L683.08 412.08L683.08 413.85L684.85 415.62L686.62 416.50M686.62 416.50L683.08 417.39L681.31 418.27L680.43 420.05L680.43 421.81L682.20 423.58L686.62 425.35L687.51 426.24L687.51 428.01L685.74 428.89L683.97 428.89M686.62 416.50L683.97 417.39L682.20 418.27L681.31 420.05L681.31 421.81L683.08 423.58L686.62 425.35M698.66 401.19L697.59 402.26L696.53 403.85L695.47 405.97L694.94 408.63L694.94 410.75L695.47 413.41L696.53 415.53L697.59 417.12L698.66 418.19M697.59 402.26L696.53 404.38L696.00 405.97L695.47 408.63L695.47 410.75L696.00 413.41L696.53 415.00L697.59 417.12M702.73 405.44L703.26 405.97L702.73 406.50L702.20 405.97L702.20 405.44L702.73 404.38L703.26 403.85L704.85 403.32L706.98 403.32L708.57 403.85L709.10 404.38L709.63 405.44L709.63 406.50L709.10 407.57L707.51 408.63L704.85 409.69L703.79 410.22L702.73 411.28L702.20 412.88L702.20 414.47M706.98 403.32L708.04 403.85L708.57 404.38L709.10 405.44L709.10 406.50L708.57 407.57L706.98 408.63L704.85 409.69M702.20 413.41L702.73 412.88L703.79 412.88L706.44 413.94L708.04 413.94L709.10 413.41L709.63 412.88M703.79 412.88L706.44 414.47L708.57 414.47L709.10 413.94L709.63 412.88L709.63 411.81M713.17 401.19L714.23 402.26L715.29 403.85L716.36 405.97L716.89 408.63L716.89 410.75L716.36 413.41L715.29 415.53L714.23 417.12L713.17 418.19M714.23 402.26L715.29 404.38L715.83 405.97L716.36 408.63L716.36 410.75L715.83 413.41L715.29 415.00L714.23 417.12M695.71 423.88L695.71 436.05M696.29 423.88L696.29 436.05M696.29 425.62L697.45 424.46L698.61 423.88L699.77 423.88L701.51 424.46L702.67 425.62L703.25 427.36L703.25 428.51L702.67 430.25L701.51 431.41L699.77 431.99L698.61 431.99L697.45 431.41L696.29 430.25M699.77 423.88L700.93 424.46L702.09 425.62L702.67 427.36L702.67 428.51L702.09 430.25L700.93 431.41L699.77 431.99M693.97 423.88L696.29 423.88M693.97 436.05L698.03 436.05M707.89 419.82L707.89 431.99M708.47 419.82L708.47 431.99M714.26 423.88L708.47 429.67M711.37 427.36L714.84 431.99M710.79 427.36L714.26 431.99M706.15 419.82L708.47 419.82M712.52 423.88L716.00 423.88M706.15 431.99L710.21 431.99M712.52 431.99L716.00 431.99" fill="none" stroke="#ff0000" stroke-width="1.40" stroke-linecap="round" stroke-linejoin="round"/>
</svg></body></html>
